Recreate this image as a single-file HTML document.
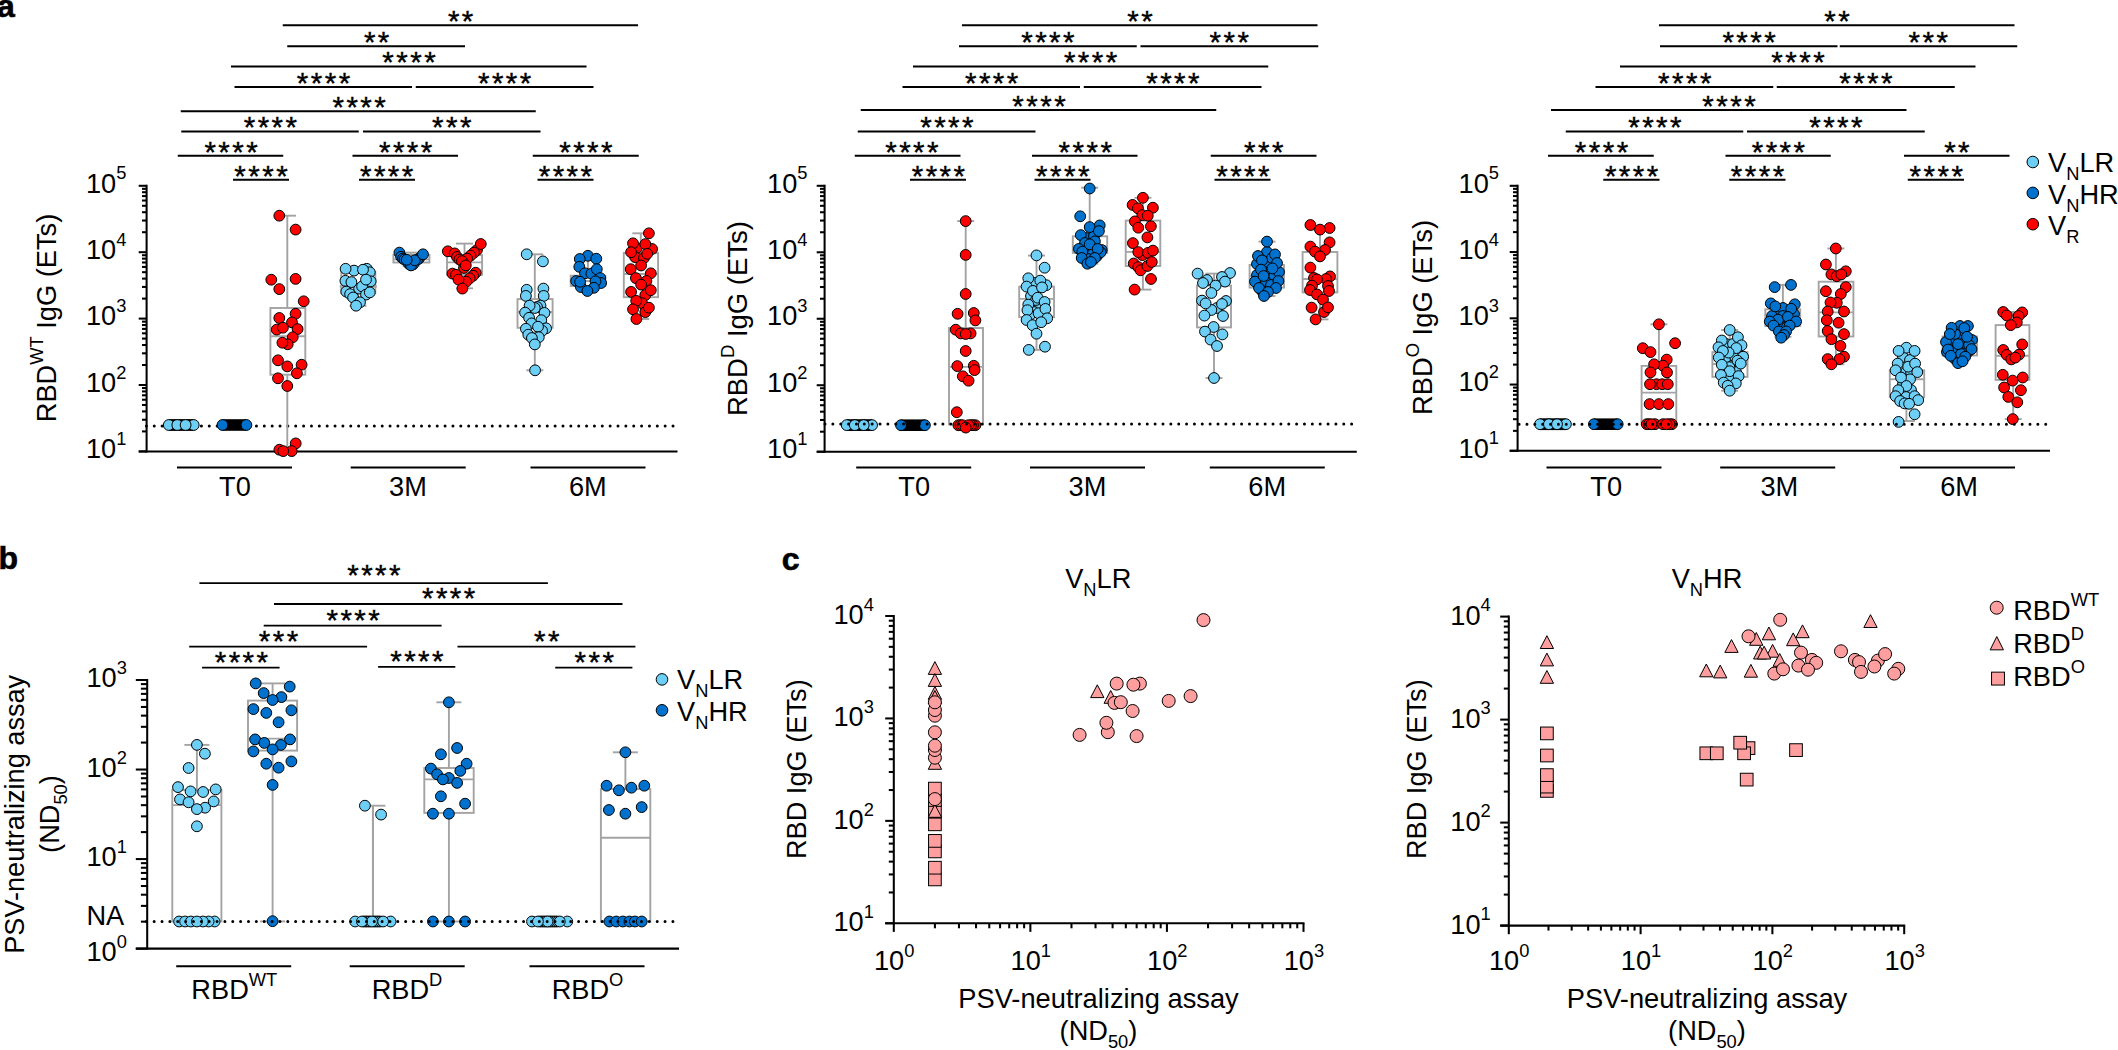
<!DOCTYPE html>
<html><head><meta charset="utf-8"><title>Figure</title>
<style>html,body{margin:0;padding:0;background:#fff}svg{display:block}</style></head>
<body><svg width="2118" height="1050" viewBox="0 0 2118 1050" font-family="'Liberation Sans', Arial, Helvetica, sans-serif" fill="#000">
<rect width="2118" height="1050" fill="#fff"/>
<g stroke="#000" stroke-width="0.6">
<text transform="translate(-2.9 17.1)" font-size="32" text-anchor="start" font-weight="bold"><tspan>a</tspan></text>
<text transform="translate(-1.5 569.4)" font-size="32" text-anchor="start" font-weight="bold"><tspan>b</tspan></text>
<text transform="translate(781.8 569.5)" font-size="32" text-anchor="start" font-weight="bold"><tspan>c</tspan></text>
</g>
<line x1="282.75" y1="25.25" x2="638" y2="25.25" stroke="#000" stroke-width="1.85"/>
<text x="461.83" y="31.05" font-size="29.5" letter-spacing="2.45" text-anchor="middle" stroke="#000" stroke-width="0.4">**</text>
<line x1="287.25" y1="46.25" x2="465" y2="46.25" stroke="#000" stroke-width="1.85"/>
<text x="377.83" y="52.05" font-size="29.5" letter-spacing="2.45" text-anchor="middle" stroke="#000" stroke-width="0.4">**</text>
<line x1="231" y1="66.5" x2="586.5" y2="66.5" stroke="#000" stroke-width="1.85"/>
<text x="410.23" y="72.3" font-size="29.5" letter-spacing="2.45" text-anchor="middle" stroke="#000" stroke-width="0.4">****</text>
<line x1="234.5" y1="87" x2="412" y2="87" stroke="#000" stroke-width="1.85"/>
<text x="324.73" y="92.8" font-size="29.5" letter-spacing="2.45" text-anchor="middle" stroke="#000" stroke-width="0.4">****</text>
<line x1="415.75" y1="87" x2="593.5" y2="87" stroke="#000" stroke-width="1.85"/>
<text x="505.83" y="92.8" font-size="29.5" letter-spacing="2.45" text-anchor="middle" stroke="#000" stroke-width="0.4">****</text>
<line x1="180.75" y1="111.25" x2="535.75" y2="111.25" stroke="#000" stroke-width="1.85"/>
<text x="360.33" y="117.05" font-size="29.5" letter-spacing="2.45" text-anchor="middle" stroke="#000" stroke-width="0.4">****</text>
<line x1="181.25" y1="131.5" x2="358.75" y2="131.5" stroke="#000" stroke-width="1.85"/>
<text x="271.62" y="137.3" font-size="29.5" letter-spacing="2.45" text-anchor="middle" stroke="#000" stroke-width="0.4">****</text>
<line x1="363" y1="131.5" x2="540.5" y2="131.5" stroke="#000" stroke-width="1.85"/>
<text x="452.98" y="137.3" font-size="29.5" letter-spacing="2.45" text-anchor="middle" stroke="#000" stroke-width="0.4">***</text>
<line x1="177.75" y1="155.75" x2="283.25" y2="155.75" stroke="#000" stroke-width="1.85"/>
<text x="232.32" y="161.55" font-size="29.5" letter-spacing="2.45" text-anchor="middle" stroke="#000" stroke-width="0.4">****</text>
<line x1="352.5" y1="155.75" x2="458" y2="155.75" stroke="#000" stroke-width="1.85"/>
<text x="406.83" y="161.55" font-size="29.5" letter-spacing="2.45" text-anchor="middle" stroke="#000" stroke-width="0.4">****</text>
<line x1="532.75" y1="155.75" x2="638.75" y2="155.75" stroke="#000" stroke-width="1.85"/>
<text x="587.12" y="161.55" font-size="29.5" letter-spacing="2.45" text-anchor="middle" stroke="#000" stroke-width="0.4">****</text>
<line x1="233" y1="179.75" x2="289" y2="179.75" stroke="#000" stroke-width="1.85"/>
<text x="262.23" y="185.55" font-size="29.5" letter-spacing="2.45" text-anchor="middle" stroke="#000" stroke-width="0.4">****</text>
<line x1="359" y1="179.75" x2="415" y2="179.75" stroke="#000" stroke-width="1.85"/>
<text x="387.83" y="185.55" font-size="29.5" letter-spacing="2.45" text-anchor="middle" stroke="#000" stroke-width="0.4">****</text>
<line x1="537.5" y1="179.75" x2="593.5" y2="179.75" stroke="#000" stroke-width="1.85"/>
<text x="566.62" y="185.55" font-size="29.5" letter-spacing="2.45" text-anchor="middle" stroke="#000" stroke-width="0.4">****</text>
<line x1="962" y1="25.25" x2="1317.5" y2="25.25" stroke="#000" stroke-width="1.85"/>
<text x="1141.22" y="31.05" font-size="29.5" letter-spacing="2.45" text-anchor="middle" stroke="#000" stroke-width="0.4">**</text>
<line x1="959" y1="46.25" x2="1136.75" y2="46.25" stroke="#000" stroke-width="1.85"/>
<text x="1049.12" y="52.05" font-size="29.5" letter-spacing="2.45" text-anchor="middle" stroke="#000" stroke-width="0.4">****</text>
<line x1="1140.5" y1="46.25" x2="1318.25" y2="46.25" stroke="#000" stroke-width="1.85"/>
<text x="1230.47" y="52.05" font-size="29.5" letter-spacing="2.45" text-anchor="middle" stroke="#000" stroke-width="0.4">***</text>
<line x1="913" y1="66.5" x2="1268.25" y2="66.5" stroke="#000" stroke-width="1.85"/>
<text x="1091.82" y="72.3" font-size="29.5" letter-spacing="2.45" text-anchor="middle" stroke="#000" stroke-width="0.4">****</text>
<line x1="902.5" y1="87" x2="1080" y2="87" stroke="#000" stroke-width="1.85"/>
<text x="992.83" y="92.8" font-size="29.5" letter-spacing="2.45" text-anchor="middle" stroke="#000" stroke-width="0.4">****</text>
<line x1="1083.75" y1="87" x2="1261.5" y2="87" stroke="#000" stroke-width="1.85"/>
<text x="1174.12" y="92.8" font-size="29.5" letter-spacing="2.45" text-anchor="middle" stroke="#000" stroke-width="0.4">****</text>
<line x1="860.75" y1="110" x2="1216.25" y2="110" stroke="#000" stroke-width="1.85"/>
<text x="1040.22" y="115.8" font-size="29.5" letter-spacing="2.45" text-anchor="middle" stroke="#000" stroke-width="0.4">****</text>
<line x1="857.75" y1="131.5" x2="1035.5" y2="131.5" stroke="#000" stroke-width="1.85"/>
<text x="948.12" y="137.3" font-size="29.5" letter-spacing="2.45" text-anchor="middle" stroke="#000" stroke-width="0.4">****</text>
<line x1="854.75" y1="155.75" x2="960.5" y2="155.75" stroke="#000" stroke-width="1.85"/>
<text x="913.12" y="161.55" font-size="29.5" letter-spacing="2.45" text-anchor="middle" stroke="#000" stroke-width="0.4">****</text>
<line x1="1032" y1="155.75" x2="1137.5" y2="155.75" stroke="#000" stroke-width="1.85"/>
<text x="1086.47" y="161.55" font-size="29.5" letter-spacing="2.45" text-anchor="middle" stroke="#000" stroke-width="0.4">****</text>
<line x1="1210.75" y1="155.75" x2="1316.5" y2="155.75" stroke="#000" stroke-width="1.85"/>
<text x="1264.97" y="161.55" font-size="29.5" letter-spacing="2.45" text-anchor="middle" stroke="#000" stroke-width="0.4">***</text>
<line x1="910" y1="179.75" x2="966" y2="179.75" stroke="#000" stroke-width="1.85"/>
<text x="939.62" y="185.55" font-size="29.5" letter-spacing="2.45" text-anchor="middle" stroke="#000" stroke-width="0.4">****</text>
<line x1="1034.5" y1="179.75" x2="1090.5" y2="179.75" stroke="#000" stroke-width="1.85"/>
<text x="1063.97" y="185.55" font-size="29.5" letter-spacing="2.45" text-anchor="middle" stroke="#000" stroke-width="0.4">****</text>
<line x1="1214.5" y1="179.75" x2="1270.5" y2="179.75" stroke="#000" stroke-width="1.85"/>
<text x="1244.12" y="185.55" font-size="29.5" letter-spacing="2.45" text-anchor="middle" stroke="#000" stroke-width="0.4">****</text>
<line x1="1659" y1="25.25" x2="2014.5" y2="25.25" stroke="#000" stroke-width="1.85"/>
<text x="1838.22" y="31.05" font-size="29.5" letter-spacing="2.45" text-anchor="middle" stroke="#000" stroke-width="0.4">**</text>
<line x1="1660" y1="46.25" x2="1837.5" y2="46.25" stroke="#000" stroke-width="1.85"/>
<text x="1750.32" y="52.05" font-size="29.5" letter-spacing="2.45" text-anchor="middle" stroke="#000" stroke-width="0.4">****</text>
<line x1="1839.75" y1="46.25" x2="2017.25" y2="46.25" stroke="#000" stroke-width="1.85"/>
<text x="1929.47" y="52.05" font-size="29.5" letter-spacing="2.45" text-anchor="middle" stroke="#000" stroke-width="0.4">***</text>
<line x1="1620" y1="66.5" x2="1975.5" y2="66.5" stroke="#000" stroke-width="1.85"/>
<text x="1799.22" y="72.3" font-size="29.5" letter-spacing="2.45" text-anchor="middle" stroke="#000" stroke-width="0.4">****</text>
<line x1="1595.5" y1="87" x2="1773.25" y2="87" stroke="#000" stroke-width="1.85"/>
<text x="1685.97" y="92.8" font-size="29.5" letter-spacing="2.45" text-anchor="middle" stroke="#000" stroke-width="0.4">****</text>
<line x1="1776.75" y1="87" x2="1954.75" y2="87" stroke="#000" stroke-width="1.85"/>
<text x="1867.12" y="92.8" font-size="29.5" letter-spacing="2.45" text-anchor="middle" stroke="#000" stroke-width="0.4">****</text>
<line x1="1551" y1="110" x2="1906.5" y2="110" stroke="#000" stroke-width="1.85"/>
<text x="1730.22" y="115.8" font-size="29.5" letter-spacing="2.45" text-anchor="middle" stroke="#000" stroke-width="0.4">****</text>
<line x1="1565.75" y1="131.5" x2="1743.25" y2="131.5" stroke="#000" stroke-width="1.85"/>
<text x="1656.12" y="137.3" font-size="29.5" letter-spacing="2.45" text-anchor="middle" stroke="#000" stroke-width="0.4">****</text>
<line x1="1747" y1="131.5" x2="1924.75" y2="131.5" stroke="#000" stroke-width="1.85"/>
<text x="1837.12" y="137.3" font-size="29.5" letter-spacing="2.45" text-anchor="middle" stroke="#000" stroke-width="0.4">****</text>
<line x1="1548" y1="155.75" x2="1653.75" y2="155.75" stroke="#000" stroke-width="1.85"/>
<text x="1602.72" y="161.55" font-size="29.5" letter-spacing="2.45" text-anchor="middle" stroke="#000" stroke-width="0.4">****</text>
<line x1="1725.5" y1="155.75" x2="1830.75" y2="155.75" stroke="#000" stroke-width="1.85"/>
<text x="1779.62" y="161.55" font-size="29.5" letter-spacing="2.45" text-anchor="middle" stroke="#000" stroke-width="0.4">****</text>
<line x1="1904" y1="155.75" x2="2009.5" y2="155.75" stroke="#000" stroke-width="1.85"/>
<text x="1958.12" y="161.55" font-size="29.5" letter-spacing="2.45" text-anchor="middle" stroke="#000" stroke-width="0.4">**</text>
<line x1="1603.25" y1="179.75" x2="1659.5" y2="179.75" stroke="#000" stroke-width="1.85"/>
<text x="1632.82" y="185.55" font-size="29.5" letter-spacing="2.45" text-anchor="middle" stroke="#000" stroke-width="0.4">****</text>
<line x1="1729.25" y1="179.75" x2="1785.5" y2="179.75" stroke="#000" stroke-width="1.85"/>
<text x="1758.72" y="185.55" font-size="29.5" letter-spacing="2.45" text-anchor="middle" stroke="#000" stroke-width="0.4">****</text>
<line x1="1907.75" y1="179.75" x2="1964" y2="179.75" stroke="#000" stroke-width="1.85"/>
<text x="1937.47" y="185.55" font-size="29.5" letter-spacing="2.45" text-anchor="middle" stroke="#000" stroke-width="0.4">****</text>
<line x1="199.4" y1="583.1" x2="547.9" y2="583.1" stroke="#000" stroke-width="1.85"/>
<text x="375.12" y="584.9" font-size="29.5" letter-spacing="2.45" text-anchor="middle" stroke="#000" stroke-width="0.4">****</text>
<line x1="274" y1="604" x2="622.5" y2="604" stroke="#000" stroke-width="1.85"/>
<text x="449.83" y="607.9" font-size="29.5" letter-spacing="2.45" text-anchor="middle" stroke="#000" stroke-width="0.4">****</text>
<line x1="263.7" y1="625.6" x2="441.6" y2="625.6" stroke="#000" stroke-width="1.85"/>
<text x="354.33" y="629.5" font-size="29.5" letter-spacing="2.45" text-anchor="middle" stroke="#000" stroke-width="0.4">****</text>
<line x1="189.2" y1="646.6" x2="367.1" y2="646.6" stroke="#000" stroke-width="1.85"/>
<text x="279.73" y="650.5" font-size="29.5" letter-spacing="2.45" text-anchor="middle" stroke="#000" stroke-width="0.4">***</text>
<line x1="457.5" y1="646.6" x2="635.4" y2="646.6" stroke="#000" stroke-width="1.85"/>
<text x="548.02" y="650.5" font-size="29.5" letter-spacing="2.45" text-anchor="middle" stroke="#000" stroke-width="0.4">**</text>
<line x1="202.1" y1="667.6" x2="279.6" y2="667.6" stroke="#000" stroke-width="1.85"/>
<text x="242.62" y="671.5" font-size="29.5" letter-spacing="2.45" text-anchor="middle" stroke="#000" stroke-width="0.4">****</text>
<line x1="378.1" y1="666.8" x2="455.3" y2="666.8" stroke="#000" stroke-width="1.85"/>
<text x="418.12" y="670.7" font-size="29.5" letter-spacing="2.45" text-anchor="middle" stroke="#000" stroke-width="0.4">****</text>
<line x1="555.2" y1="667.6" x2="632.4" y2="667.6" stroke="#000" stroke-width="1.85"/>
<text x="595.43" y="671.5" font-size="29.5" letter-spacing="2.45" text-anchor="middle" stroke="#000" stroke-width="0.4">***</text>
<line x1="146.6" y1="184.78" x2="146.6" y2="452.42" stroke="#000" stroke-width="2.05"/>
<line x1="138.7" y1="451.4" x2="146.6" y2="451.4" stroke="#000" stroke-width="2.05"/>
<line x1="142" y1="431.41" x2="146.6" y2="431.41" stroke="#000" stroke-width="2.05"/>
<line x1="142" y1="419.72" x2="146.6" y2="419.72" stroke="#000" stroke-width="2.05"/>
<line x1="142" y1="411.42" x2="146.6" y2="411.42" stroke="#000" stroke-width="2.05"/>
<line x1="142" y1="404.99" x2="146.6" y2="404.99" stroke="#000" stroke-width="2.05"/>
<line x1="142" y1="399.73" x2="146.6" y2="399.73" stroke="#000" stroke-width="2.05"/>
<line x1="142" y1="395.29" x2="146.6" y2="395.29" stroke="#000" stroke-width="2.05"/>
<line x1="142" y1="391.43" x2="146.6" y2="391.43" stroke="#000" stroke-width="2.05"/>
<line x1="142" y1="388.04" x2="146.6" y2="388.04" stroke="#000" stroke-width="2.05"/>
<line x1="138.7" y1="385" x2="146.6" y2="385" stroke="#000" stroke-width="2.05"/>
<line x1="142" y1="365.01" x2="146.6" y2="365.01" stroke="#000" stroke-width="2.05"/>
<line x1="142" y1="353.32" x2="146.6" y2="353.32" stroke="#000" stroke-width="2.05"/>
<line x1="142" y1="345.02" x2="146.6" y2="345.02" stroke="#000" stroke-width="2.05"/>
<line x1="142" y1="338.59" x2="146.6" y2="338.59" stroke="#000" stroke-width="2.05"/>
<line x1="142" y1="333.33" x2="146.6" y2="333.33" stroke="#000" stroke-width="2.05"/>
<line x1="142" y1="328.89" x2="146.6" y2="328.89" stroke="#000" stroke-width="2.05"/>
<line x1="142" y1="325.03" x2="146.6" y2="325.03" stroke="#000" stroke-width="2.05"/>
<line x1="142" y1="321.64" x2="146.6" y2="321.64" stroke="#000" stroke-width="2.05"/>
<line x1="138.7" y1="318.6" x2="146.6" y2="318.6" stroke="#000" stroke-width="2.05"/>
<line x1="142" y1="298.61" x2="146.6" y2="298.61" stroke="#000" stroke-width="2.05"/>
<line x1="142" y1="286.92" x2="146.6" y2="286.92" stroke="#000" stroke-width="2.05"/>
<line x1="142" y1="278.62" x2="146.6" y2="278.62" stroke="#000" stroke-width="2.05"/>
<line x1="142" y1="272.19" x2="146.6" y2="272.19" stroke="#000" stroke-width="2.05"/>
<line x1="142" y1="266.93" x2="146.6" y2="266.93" stroke="#000" stroke-width="2.05"/>
<line x1="142" y1="262.49" x2="146.6" y2="262.49" stroke="#000" stroke-width="2.05"/>
<line x1="142" y1="258.63" x2="146.6" y2="258.63" stroke="#000" stroke-width="2.05"/>
<line x1="142" y1="255.24" x2="146.6" y2="255.24" stroke="#000" stroke-width="2.05"/>
<line x1="138.7" y1="252.2" x2="146.6" y2="252.2" stroke="#000" stroke-width="2.05"/>
<line x1="142" y1="232.21" x2="146.6" y2="232.21" stroke="#000" stroke-width="2.05"/>
<line x1="142" y1="220.52" x2="146.6" y2="220.52" stroke="#000" stroke-width="2.05"/>
<line x1="142" y1="212.22" x2="146.6" y2="212.22" stroke="#000" stroke-width="2.05"/>
<line x1="142" y1="205.79" x2="146.6" y2="205.79" stroke="#000" stroke-width="2.05"/>
<line x1="142" y1="200.53" x2="146.6" y2="200.53" stroke="#000" stroke-width="2.05"/>
<line x1="142" y1="196.09" x2="146.6" y2="196.09" stroke="#000" stroke-width="2.05"/>
<line x1="142" y1="192.23" x2="146.6" y2="192.23" stroke="#000" stroke-width="2.05"/>
<line x1="142" y1="188.84" x2="146.6" y2="188.84" stroke="#000" stroke-width="2.05"/>
<line x1="138.7" y1="185.8" x2="146.6" y2="185.8" stroke="#000" stroke-width="2.05"/>
<line x1="138.7" y1="451.4" x2="677.5" y2="451.4" stroke="#000" stroke-width="2.05"/>
<text transform="translate(85.9 458.1) scale(0.975 1)" font-size="27.9" text-anchor="start"><tspan>10</tspan><tspan dy="-13.2" font-size="18.8">1</tspan></text>
<text transform="translate(85.9 391.7) scale(0.975 1)" font-size="27.9" text-anchor="start"><tspan>10</tspan><tspan dy="-13.2" font-size="18.8">2</tspan></text>
<text transform="translate(85.9 325.3) scale(0.975 1)" font-size="27.9" text-anchor="start"><tspan>10</tspan><tspan dy="-13.2" font-size="18.8">3</tspan></text>
<text transform="translate(85.9 258.9) scale(0.975 1)" font-size="27.9" text-anchor="start"><tspan>10</tspan><tspan dy="-13.2" font-size="18.8">4</tspan></text>
<text transform="translate(85.9 192.5) scale(0.975 1)" font-size="27.9" text-anchor="start"><tspan>10</tspan><tspan dy="-13.2" font-size="18.8">5</tspan></text>
<text transform="translate(55.7 318) rotate(-90) scale(0.975 1)" font-size="27.9" text-anchor="middle" textLength="213.85" lengthAdjust="spacingAndGlyphs"><tspan>RBD</tspan><tspan dy="-13.2" font-size="18.8">WT</tspan><tspan dy="13.2" font-size="27.9"> IgG (ETs)</tspan></text>
<line x1="177" y1="467.6" x2="292" y2="467.6" stroke="#000" stroke-width="2.0"/>
<text transform="translate(234.9 495.9) scale(0.975 1)" font-size="27.9" text-anchor="middle"><tspan>T0</tspan></text>
<line x1="350.7" y1="467.6" x2="465.7" y2="467.6" stroke="#000" stroke-width="2.0"/>
<text transform="translate(408 495.9) scale(0.975 1)" font-size="27.9" text-anchor="middle"><tspan>3M</tspan></text>
<line x1="530.5" y1="467.6" x2="645.5" y2="467.6" stroke="#000" stroke-width="2.0"/>
<text transform="translate(587.8 495.9) scale(0.975 1)" font-size="27.9" text-anchor="middle"><tspan>6M</tspan></text>
<line x1="824.6" y1="184.78" x2="824.6" y2="452.72" stroke="#000" stroke-width="2.05"/>
<line x1="816.7" y1="451.7" x2="824.6" y2="451.7" stroke="#000" stroke-width="2.05"/>
<line x1="820" y1="431.69" x2="824.6" y2="431.69" stroke="#000" stroke-width="2.05"/>
<line x1="820" y1="419.98" x2="824.6" y2="419.98" stroke="#000" stroke-width="2.05"/>
<line x1="820" y1="411.68" x2="824.6" y2="411.68" stroke="#000" stroke-width="2.05"/>
<line x1="820" y1="405.24" x2="824.6" y2="405.24" stroke="#000" stroke-width="2.05"/>
<line x1="820" y1="399.97" x2="824.6" y2="399.97" stroke="#000" stroke-width="2.05"/>
<line x1="820" y1="395.52" x2="824.6" y2="395.52" stroke="#000" stroke-width="2.05"/>
<line x1="820" y1="391.67" x2="824.6" y2="391.67" stroke="#000" stroke-width="2.05"/>
<line x1="820" y1="388.27" x2="824.6" y2="388.27" stroke="#000" stroke-width="2.05"/>
<line x1="816.7" y1="385.23" x2="824.6" y2="385.23" stroke="#000" stroke-width="2.05"/>
<line x1="820" y1="365.21" x2="824.6" y2="365.21" stroke="#000" stroke-width="2.05"/>
<line x1="820" y1="353.51" x2="824.6" y2="353.51" stroke="#000" stroke-width="2.05"/>
<line x1="820" y1="345.2" x2="824.6" y2="345.2" stroke="#000" stroke-width="2.05"/>
<line x1="820" y1="338.76" x2="824.6" y2="338.76" stroke="#000" stroke-width="2.05"/>
<line x1="820" y1="333.5" x2="824.6" y2="333.5" stroke="#000" stroke-width="2.05"/>
<line x1="820" y1="329.05" x2="824.6" y2="329.05" stroke="#000" stroke-width="2.05"/>
<line x1="820" y1="325.19" x2="824.6" y2="325.19" stroke="#000" stroke-width="2.05"/>
<line x1="820" y1="321.79" x2="824.6" y2="321.79" stroke="#000" stroke-width="2.05"/>
<line x1="816.7" y1="318.75" x2="824.6" y2="318.75" stroke="#000" stroke-width="2.05"/>
<line x1="820" y1="298.74" x2="824.6" y2="298.74" stroke="#000" stroke-width="2.05"/>
<line x1="820" y1="287.03" x2="824.6" y2="287.03" stroke="#000" stroke-width="2.05"/>
<line x1="820" y1="278.73" x2="824.6" y2="278.73" stroke="#000" stroke-width="2.05"/>
<line x1="820" y1="272.29" x2="824.6" y2="272.29" stroke="#000" stroke-width="2.05"/>
<line x1="820" y1="267.02" x2="824.6" y2="267.02" stroke="#000" stroke-width="2.05"/>
<line x1="820" y1="262.57" x2="824.6" y2="262.57" stroke="#000" stroke-width="2.05"/>
<line x1="820" y1="258.72" x2="824.6" y2="258.72" stroke="#000" stroke-width="2.05"/>
<line x1="820" y1="255.32" x2="824.6" y2="255.32" stroke="#000" stroke-width="2.05"/>
<line x1="816.7" y1="252.28" x2="824.6" y2="252.28" stroke="#000" stroke-width="2.05"/>
<line x1="820" y1="232.26" x2="824.6" y2="232.26" stroke="#000" stroke-width="2.05"/>
<line x1="820" y1="220.56" x2="824.6" y2="220.56" stroke="#000" stroke-width="2.05"/>
<line x1="820" y1="212.25" x2="824.6" y2="212.25" stroke="#000" stroke-width="2.05"/>
<line x1="820" y1="205.81" x2="824.6" y2="205.81" stroke="#000" stroke-width="2.05"/>
<line x1="820" y1="200.55" x2="824.6" y2="200.55" stroke="#000" stroke-width="2.05"/>
<line x1="820" y1="196.1" x2="824.6" y2="196.1" stroke="#000" stroke-width="2.05"/>
<line x1="820" y1="192.24" x2="824.6" y2="192.24" stroke="#000" stroke-width="2.05"/>
<line x1="820" y1="188.84" x2="824.6" y2="188.84" stroke="#000" stroke-width="2.05"/>
<line x1="816.7" y1="185.8" x2="824.6" y2="185.8" stroke="#000" stroke-width="2.05"/>
<line x1="816.7" y1="451.7" x2="1356.8" y2="451.7" stroke="#000" stroke-width="2.05"/>
<text transform="translate(767 458.4) scale(0.975 1)" font-size="27.9" text-anchor="start"><tspan>10</tspan><tspan dy="-13.2" font-size="18.8">1</tspan></text>
<text transform="translate(767 391.93) scale(0.975 1)" font-size="27.9" text-anchor="start"><tspan>10</tspan><tspan dy="-13.2" font-size="18.8">2</tspan></text>
<text transform="translate(767 325.45) scale(0.975 1)" font-size="27.9" text-anchor="start"><tspan>10</tspan><tspan dy="-13.2" font-size="18.8">3</tspan></text>
<text transform="translate(767 258.98) scale(0.975 1)" font-size="27.9" text-anchor="start"><tspan>10</tspan><tspan dy="-13.2" font-size="18.8">4</tspan></text>
<text transform="translate(767 192.5) scale(0.975 1)" font-size="27.9" text-anchor="start"><tspan>10</tspan><tspan dy="-13.2" font-size="18.8">5</tspan></text>
<text transform="translate(747.2 318.6) rotate(-90) scale(0.975 1)" font-size="27.9" text-anchor="middle" textLength="200" lengthAdjust="spacingAndGlyphs"><tspan>RBD</tspan><tspan dy="-13.2" font-size="18.8">D</tspan><tspan dy="13.2" font-size="27.9"> IgG (ETs)</tspan></text>
<line x1="856.2" y1="467.6" x2="971.2" y2="467.6" stroke="#000" stroke-width="2.0"/>
<text transform="translate(914.2 495.9) scale(0.975 1)" font-size="27.9" text-anchor="middle"><tspan>T0</tspan></text>
<line x1="1030" y1="467.6" x2="1145" y2="467.6" stroke="#000" stroke-width="2.0"/>
<text transform="translate(1087.5 495.9) scale(0.975 1)" font-size="27.9" text-anchor="middle"><tspan>3M</tspan></text>
<line x1="1209.8" y1="467.6" x2="1324.8" y2="467.6" stroke="#000" stroke-width="2.0"/>
<text transform="translate(1267.2 495.9) scale(0.975 1)" font-size="27.9" text-anchor="middle"><tspan>6M</tspan></text>
<line x1="1517.6" y1="184.78" x2="1517.6" y2="451.82" stroke="#000" stroke-width="2.05"/>
<line x1="1509.7" y1="450.8" x2="1517.6" y2="450.8" stroke="#000" stroke-width="2.05"/>
<line x1="1513" y1="430.86" x2="1517.6" y2="430.86" stroke="#000" stroke-width="2.05"/>
<line x1="1513" y1="419.19" x2="1517.6" y2="419.19" stroke="#000" stroke-width="2.05"/>
<line x1="1513" y1="410.91" x2="1517.6" y2="410.91" stroke="#000" stroke-width="2.05"/>
<line x1="1513" y1="404.49" x2="1517.6" y2="404.49" stroke="#000" stroke-width="2.05"/>
<line x1="1513" y1="399.25" x2="1517.6" y2="399.25" stroke="#000" stroke-width="2.05"/>
<line x1="1513" y1="394.81" x2="1517.6" y2="394.81" stroke="#000" stroke-width="2.05"/>
<line x1="1513" y1="390.97" x2="1517.6" y2="390.97" stroke="#000" stroke-width="2.05"/>
<line x1="1513" y1="387.58" x2="1517.6" y2="387.58" stroke="#000" stroke-width="2.05"/>
<line x1="1509.7" y1="384.55" x2="1517.6" y2="384.55" stroke="#000" stroke-width="2.05"/>
<line x1="1513" y1="364.61" x2="1517.6" y2="364.61" stroke="#000" stroke-width="2.05"/>
<line x1="1513" y1="352.94" x2="1517.6" y2="352.94" stroke="#000" stroke-width="2.05"/>
<line x1="1513" y1="344.66" x2="1517.6" y2="344.66" stroke="#000" stroke-width="2.05"/>
<line x1="1513" y1="338.24" x2="1517.6" y2="338.24" stroke="#000" stroke-width="2.05"/>
<line x1="1513" y1="333" x2="1517.6" y2="333" stroke="#000" stroke-width="2.05"/>
<line x1="1513" y1="328.56" x2="1517.6" y2="328.56" stroke="#000" stroke-width="2.05"/>
<line x1="1513" y1="324.72" x2="1517.6" y2="324.72" stroke="#000" stroke-width="2.05"/>
<line x1="1513" y1="321.33" x2="1517.6" y2="321.33" stroke="#000" stroke-width="2.05"/>
<line x1="1509.7" y1="318.3" x2="1517.6" y2="318.3" stroke="#000" stroke-width="2.05"/>
<line x1="1513" y1="298.36" x2="1517.6" y2="298.36" stroke="#000" stroke-width="2.05"/>
<line x1="1513" y1="286.69" x2="1517.6" y2="286.69" stroke="#000" stroke-width="2.05"/>
<line x1="1513" y1="278.41" x2="1517.6" y2="278.41" stroke="#000" stroke-width="2.05"/>
<line x1="1513" y1="271.99" x2="1517.6" y2="271.99" stroke="#000" stroke-width="2.05"/>
<line x1="1513" y1="266.75" x2="1517.6" y2="266.75" stroke="#000" stroke-width="2.05"/>
<line x1="1513" y1="262.31" x2="1517.6" y2="262.31" stroke="#000" stroke-width="2.05"/>
<line x1="1513" y1="258.47" x2="1517.6" y2="258.47" stroke="#000" stroke-width="2.05"/>
<line x1="1513" y1="255.08" x2="1517.6" y2="255.08" stroke="#000" stroke-width="2.05"/>
<line x1="1509.7" y1="252.05" x2="1517.6" y2="252.05" stroke="#000" stroke-width="2.05"/>
<line x1="1513" y1="232.11" x2="1517.6" y2="232.11" stroke="#000" stroke-width="2.05"/>
<line x1="1513" y1="220.44" x2="1517.6" y2="220.44" stroke="#000" stroke-width="2.05"/>
<line x1="1513" y1="212.16" x2="1517.6" y2="212.16" stroke="#000" stroke-width="2.05"/>
<line x1="1513" y1="205.74" x2="1517.6" y2="205.74" stroke="#000" stroke-width="2.05"/>
<line x1="1513" y1="200.5" x2="1517.6" y2="200.5" stroke="#000" stroke-width="2.05"/>
<line x1="1513" y1="196.06" x2="1517.6" y2="196.06" stroke="#000" stroke-width="2.05"/>
<line x1="1513" y1="192.22" x2="1517.6" y2="192.22" stroke="#000" stroke-width="2.05"/>
<line x1="1513" y1="188.83" x2="1517.6" y2="188.83" stroke="#000" stroke-width="2.05"/>
<line x1="1509.7" y1="185.8" x2="1517.6" y2="185.8" stroke="#000" stroke-width="2.05"/>
<line x1="1509.7" y1="450.8" x2="2050" y2="450.8" stroke="#000" stroke-width="2.05"/>
<text transform="translate(1458.5 457.5) scale(0.975 1)" font-size="27.9" text-anchor="start"><tspan>10</tspan><tspan dy="-13.2" font-size="18.8">1</tspan></text>
<text transform="translate(1458.5 391.25) scale(0.975 1)" font-size="27.9" text-anchor="start"><tspan>10</tspan><tspan dy="-13.2" font-size="18.8">2</tspan></text>
<text transform="translate(1458.5 325) scale(0.975 1)" font-size="27.9" text-anchor="start"><tspan>10</tspan><tspan dy="-13.2" font-size="18.8">3</tspan></text>
<text transform="translate(1458.5 258.75) scale(0.975 1)" font-size="27.9" text-anchor="start"><tspan>10</tspan><tspan dy="-13.2" font-size="18.8">4</tspan></text>
<text transform="translate(1458.5 192.5) scale(0.975 1)" font-size="27.9" text-anchor="start"><tspan>10</tspan><tspan dy="-13.2" font-size="18.8">5</tspan></text>
<text transform="translate(1432.4 317.5) rotate(-90) scale(0.975 1)" font-size="27.9" text-anchor="middle" textLength="200" lengthAdjust="spacingAndGlyphs"><tspan>RBD</tspan><tspan dy="-13.2" font-size="18.8">O</tspan><tspan dy="13.2" font-size="27.9"> IgG (ETs)</tspan></text>
<line x1="1546.5" y1="467.6" x2="1661.5" y2="467.6" stroke="#000" stroke-width="2.0"/>
<text transform="translate(1606.2 495.9) scale(0.975 1)" font-size="27.9" text-anchor="middle"><tspan>T0</tspan></text>
<line x1="1720.2" y1="467.6" x2="1835.2" y2="467.6" stroke="#000" stroke-width="2.0"/>
<text transform="translate(1779.3 495.9) scale(0.975 1)" font-size="27.9" text-anchor="middle"><tspan>3M</tspan></text>
<line x1="1900" y1="467.6" x2="2015" y2="467.6" stroke="#000" stroke-width="2.0"/>
<text transform="translate(1959.1 495.9) scale(0.975 1)" font-size="27.9" text-anchor="middle"><tspan>6M</tspan></text>
<line x1="146.4" y1="425.9" x2="677" y2="425.9" stroke="#000" stroke-width="3.0" stroke-linecap="round" stroke-dasharray="0 7.86"/>
<line x1="287.3" y1="215.7" x2="287.3" y2="308" stroke="#a3a3a3" stroke-width="1.9"/>
<line x1="278.6" y1="215.7" x2="296" y2="215.7" stroke="#a3a3a3" stroke-width="1.9"/>
<line x1="287.3" y1="374.7" x2="287.3" y2="451" stroke="#a3a3a3" stroke-width="1.9"/>
<line x1="278.6" y1="451" x2="296" y2="451" stroke="#a3a3a3" stroke-width="1.9"/>
<rect x="270.4" y="308" width="34.9" height="66.7" fill="none" stroke="#a3a3a3" stroke-width="1.9"/>
<line x1="270.4" y1="336.3" x2="305.3" y2="336.3" stroke="#a3a3a3" stroke-width="1.9"/>
<line x1="358" y1="268.5" x2="358" y2="272" stroke="#a3a3a3" stroke-width="1.9"/>
<line x1="349.5" y1="268.5" x2="366.5" y2="268.5" stroke="#a3a3a3" stroke-width="1.9"/>
<line x1="358" y1="293" x2="358" y2="305.7" stroke="#a3a3a3" stroke-width="1.9"/>
<line x1="349.5" y1="305.7" x2="366.5" y2="305.7" stroke="#a3a3a3" stroke-width="1.9"/>
<rect x="341.3" y="272" width="34" height="21" fill="none" stroke="#a3a3a3" stroke-width="1.9"/>
<line x1="341.3" y1="286.5" x2="375.3" y2="286.5" stroke="#a3a3a3" stroke-width="1.9"/>
<line x1="339.6" y1="286.5" x2="377" y2="286.5" stroke="#a3a3a3" stroke-width="1.9"/>
<line x1="411" y1="252.6" x2="411" y2="255" stroke="#a3a3a3" stroke-width="1.9"/>
<line x1="402.5" y1="252.6" x2="419.5" y2="252.6" stroke="#a3a3a3" stroke-width="1.9"/>
<line x1="411" y1="262.5" x2="411" y2="265.8" stroke="#a3a3a3" stroke-width="1.9"/>
<line x1="402.5" y1="265.8" x2="419.5" y2="265.8" stroke="#a3a3a3" stroke-width="1.9"/>
<rect x="393.4" y="255" width="36" height="7.5" fill="none" stroke="#a3a3a3" stroke-width="1.9"/>
<line x1="393.4" y1="259.4" x2="429.4" y2="259.4" stroke="#a3a3a3" stroke-width="1.9"/>
<line x1="464.5" y1="243.6" x2="464.5" y2="255.1" stroke="#a3a3a3" stroke-width="1.9"/>
<line x1="456" y1="243.6" x2="473" y2="243.6" stroke="#a3a3a3" stroke-width="1.9"/>
<line x1="464.5" y1="274.8" x2="464.5" y2="288.3" stroke="#a3a3a3" stroke-width="1.9"/>
<line x1="456" y1="288.3" x2="473" y2="288.3" stroke="#a3a3a3" stroke-width="1.9"/>
<rect x="447" y="255.1" width="35.1" height="19.7" fill="none" stroke="#a3a3a3" stroke-width="1.9"/>
<line x1="447" y1="262.4" x2="482.1" y2="262.4" stroke="#a3a3a3" stroke-width="1.9"/>
<line x1="534.8" y1="254.3" x2="534.8" y2="299.1" stroke="#a3a3a3" stroke-width="1.9"/>
<line x1="526.3" y1="254.3" x2="543.3" y2="254.3" stroke="#a3a3a3" stroke-width="1.9"/>
<line x1="534.8" y1="327.8" x2="534.8" y2="370.3" stroke="#a3a3a3" stroke-width="1.9"/>
<line x1="526.3" y1="370.3" x2="543.3" y2="370.3" stroke="#a3a3a3" stroke-width="1.9"/>
<rect x="517.5" y="299.1" width="35.1" height="28.7" fill="none" stroke="#a3a3a3" stroke-width="1.9"/>
<line x1="517.5" y1="312" x2="552.6" y2="312" stroke="#a3a3a3" stroke-width="1.9"/>
<line x1="587.9" y1="255.8" x2="587.9" y2="275.7" stroke="#a3a3a3" stroke-width="1.9"/>
<line x1="579.4" y1="255.8" x2="596.4" y2="255.8" stroke="#a3a3a3" stroke-width="1.9"/>
<line x1="587.9" y1="286" x2="587.9" y2="291" stroke="#a3a3a3" stroke-width="1.9"/>
<line x1="579.4" y1="291" x2="596.4" y2="291" stroke="#a3a3a3" stroke-width="1.9"/>
<rect x="570.7" y="275.7" width="34.6" height="10.3" fill="none" stroke="#a3a3a3" stroke-width="1.9"/>
<line x1="570.7" y1="281" x2="605.3" y2="281" stroke="#a3a3a3" stroke-width="1.9"/>
<line x1="640.8" y1="233.3" x2="640.8" y2="253" stroke="#a3a3a3" stroke-width="1.9"/>
<line x1="632.3" y1="233.3" x2="649.3" y2="233.3" stroke="#a3a3a3" stroke-width="1.9"/>
<line x1="640.8" y1="297.2" x2="640.8" y2="319" stroke="#a3a3a3" stroke-width="1.9"/>
<line x1="632.3" y1="319" x2="649.3" y2="319" stroke="#a3a3a3" stroke-width="1.9"/>
<rect x="623.8" y="253" width="34.3" height="44.2" fill="none" stroke="#a3a3a3" stroke-width="1.9"/>
<line x1="623.8" y1="274" x2="658.1" y2="274" stroke="#a3a3a3" stroke-width="1.9"/>
<rect x="168.8" y="419.1" width="24.9" height="11.8" fill="#000"/>
<circle cx="168.8" cy="425" r="5.4" fill="#6dcff6" stroke="#000" stroke-width="1.0"/>
<circle cx="193.7" cy="425" r="5.4" fill="#6dcff6" stroke="#000" stroke-width="1.0"/>
<circle cx="177.3" cy="425" r="5.4" fill="#6dcff6" stroke="#000" stroke-width="1.0"/>
<circle cx="185.6" cy="425" r="5.4" fill="#6dcff6" stroke="#000" stroke-width="1.0"/>
<rect x="222.5" y="419.2" width="23.9" height="11.6" fill="#000"/>
<circle cx="222.5" cy="425" r="5.4" fill="#0072ce" stroke="#000" stroke-width="1.0"/>
<circle cx="246.4" cy="425" r="5.4" fill="#0072ce" stroke="#000" stroke-width="1.0"/>
<circle cx="279.3" cy="215.7" r="5.4" fill="#ff0000" stroke="#000" stroke-width="1.0"/>
<circle cx="295.6" cy="229.6" r="5.4" fill="#ff0000" stroke="#000" stroke-width="1.0"/>
<circle cx="271.3" cy="279.7" r="5.4" fill="#ff0000" stroke="#000" stroke-width="1.0"/>
<circle cx="295.6" cy="278.9" r="5.4" fill="#ff0000" stroke="#000" stroke-width="1.0"/>
<circle cx="279.3" cy="289.1" r="5.4" fill="#ff0000" stroke="#000" stroke-width="1.0"/>
<circle cx="303.7" cy="301.3" r="5.4" fill="#ff0000" stroke="#000" stroke-width="1.0"/>
<circle cx="295.6" cy="313.7" r="5.4" fill="#ff0000" stroke="#000" stroke-width="1.0"/>
<circle cx="279.3" cy="318" r="5.4" fill="#ff0000" stroke="#000" stroke-width="1.0"/>
<circle cx="292" cy="322.4" r="5.4" fill="#ff0000" stroke="#000" stroke-width="1.0"/>
<circle cx="276.7" cy="329.6" r="5.4" fill="#ff0000" stroke="#000" stroke-width="1.0"/>
<circle cx="282.9" cy="327.7" r="5.4" fill="#ff0000" stroke="#000" stroke-width="1.0"/>
<circle cx="297.6" cy="329.1" r="5.4" fill="#ff0000" stroke="#000" stroke-width="1.0"/>
<circle cx="292.7" cy="337.3" r="5.4" fill="#ff0000" stroke="#000" stroke-width="1.0"/>
<circle cx="287.7" cy="344.3" r="5.4" fill="#ff0000" stroke="#000" stroke-width="1.0"/>
<circle cx="282.4" cy="342.7" r="5.4" fill="#ff0000" stroke="#000" stroke-width="1.0"/>
<circle cx="278" cy="360.3" r="5.4" fill="#ff0000" stroke="#000" stroke-width="1.0"/>
<circle cx="287.3" cy="366.4" r="5.4" fill="#ff0000" stroke="#000" stroke-width="1.0"/>
<circle cx="301.6" cy="364.7" r="5.4" fill="#ff0000" stroke="#000" stroke-width="1.0"/>
<circle cx="296.9" cy="373.3" r="5.4" fill="#ff0000" stroke="#000" stroke-width="1.0"/>
<circle cx="278" cy="378.3" r="5.4" fill="#ff0000" stroke="#000" stroke-width="1.0"/>
<circle cx="287.3" cy="386" r="5.4" fill="#ff0000" stroke="#000" stroke-width="1.0"/>
<circle cx="295.7" cy="443.4" r="5.4" fill="#ff0000" stroke="#000" stroke-width="1.0"/>
<circle cx="279.4" cy="449.7" r="5.4" fill="#ff0000" stroke="#000" stroke-width="1.0"/>
<circle cx="291.7" cy="451.1" r="5.4" fill="#ff0000" stroke="#000" stroke-width="1.0"/>
<circle cx="283.2" cy="451.1" r="5.4" fill="#ff0000" stroke="#000" stroke-width="1.0"/>
<circle cx="354" cy="270.6" r="5.4" fill="#6dcff6" stroke="#000" stroke-width="1.0"/>
<circle cx="345.6" cy="268.8" r="5.4" fill="#6dcff6" stroke="#000" stroke-width="1.0"/>
<circle cx="366.8" cy="268.8" r="5.4" fill="#6dcff6" stroke="#000" stroke-width="1.0"/>
<circle cx="369.8" cy="272.3" r="5.4" fill="#6dcff6" stroke="#000" stroke-width="1.0"/>
<circle cx="363" cy="269.7" r="5.4" fill="#6dcff6" stroke="#000" stroke-width="1.0"/>
<circle cx="345.4" cy="280.8" r="5.4" fill="#6dcff6" stroke="#000" stroke-width="1.0"/>
<circle cx="370.7" cy="281.3" r="5.4" fill="#6dcff6" stroke="#000" stroke-width="1.0"/>
<circle cx="359.1" cy="288.6" r="5.4" fill="#6dcff6" stroke="#000" stroke-width="1.0"/>
<circle cx="362.1" cy="286.4" r="5.4" fill="#6dcff6" stroke="#000" stroke-width="1.0"/>
<circle cx="351.4" cy="282.1" r="5.4" fill="#6dcff6" stroke="#000" stroke-width="1.0"/>
<circle cx="366" cy="279.6" r="5.4" fill="#6dcff6" stroke="#000" stroke-width="1.0"/>
<circle cx="346.3" cy="291.6" r="5.4" fill="#6dcff6" stroke="#000" stroke-width="1.0"/>
<circle cx="366" cy="294.6" r="5.4" fill="#6dcff6" stroke="#000" stroke-width="1.0"/>
<circle cx="350.1" cy="294.1" r="5.4" fill="#6dcff6" stroke="#000" stroke-width="1.0"/>
<circle cx="369.8" cy="292.4" r="5.4" fill="#6dcff6" stroke="#000" stroke-width="1.0"/>
<circle cx="353.1" cy="297.5" r="5.4" fill="#6dcff6" stroke="#000" stroke-width="1.0"/>
<circle cx="360" cy="302.3" r="5.4" fill="#6dcff6" stroke="#000" stroke-width="1.0"/>
<circle cx="356.1" cy="305.7" r="5.4" fill="#6dcff6" stroke="#000" stroke-width="1.0"/>
<circle cx="399.4" cy="252.6" r="5.4" fill="#0072ce" stroke="#000" stroke-width="1.0"/>
<circle cx="401.1" cy="256.8" r="5.4" fill="#0072ce" stroke="#000" stroke-width="1.0"/>
<circle cx="403" cy="258.5" r="5.4" fill="#0072ce" stroke="#000" stroke-width="1.0"/>
<circle cx="404.5" cy="259.5" r="5.4" fill="#0072ce" stroke="#000" stroke-width="1.0"/>
<circle cx="419" cy="258.5" r="5.4" fill="#0072ce" stroke="#000" stroke-width="1.0"/>
<circle cx="417" cy="260" r="5.4" fill="#0072ce" stroke="#000" stroke-width="1.0"/>
<circle cx="409" cy="264" r="5.4" fill="#0072ce" stroke="#000" stroke-width="1.0"/>
<circle cx="413" cy="264.5" r="5.4" fill="#0072ce" stroke="#000" stroke-width="1.0"/>
<circle cx="411" cy="265.4" r="5.4" fill="#0072ce" stroke="#000" stroke-width="1.0"/>
<circle cx="414.8" cy="260.3" r="5.4" fill="#0072ce" stroke="#000" stroke-width="1.0"/>
<circle cx="406.7" cy="259.8" r="5.4" fill="#0072ce" stroke="#000" stroke-width="1.0"/>
<circle cx="423" cy="254.3" r="5.4" fill="#0072ce" stroke="#000" stroke-width="1.0"/>
<circle cx="447.8" cy="251.3" r="5.4" fill="#ff0000" stroke="#000" stroke-width="1.0"/>
<circle cx="454.7" cy="253.4" r="5.4" fill="#ff0000" stroke="#000" stroke-width="1.0"/>
<circle cx="457" cy="257" r="5.4" fill="#ff0000" stroke="#000" stroke-width="1.0"/>
<circle cx="459.5" cy="259.5" r="5.4" fill="#ff0000" stroke="#000" stroke-width="1.0"/>
<circle cx="477" cy="250" r="5.4" fill="#ff0000" stroke="#000" stroke-width="1.0"/>
<circle cx="474" cy="252.6" r="5.4" fill="#ff0000" stroke="#000" stroke-width="1.0"/>
<circle cx="470.5" cy="255.6" r="5.4" fill="#ff0000" stroke="#000" stroke-width="1.0"/>
<circle cx="467.1" cy="258.6" r="5.4" fill="#ff0000" stroke="#000" stroke-width="1.0"/>
<circle cx="462" cy="261.1" r="5.4" fill="#ff0000" stroke="#000" stroke-width="1.0"/>
<circle cx="464" cy="268" r="5.4" fill="#ff0000" stroke="#000" stroke-width="1.0"/>
<circle cx="465.8" cy="265.4" r="5.4" fill="#ff0000" stroke="#000" stroke-width="1.0"/>
<circle cx="452.5" cy="273.6" r="5.4" fill="#ff0000" stroke="#000" stroke-width="1.0"/>
<circle cx="456" cy="274.8" r="5.4" fill="#ff0000" stroke="#000" stroke-width="1.0"/>
<circle cx="475.7" cy="272.7" r="5.4" fill="#ff0000" stroke="#000" stroke-width="1.0"/>
<circle cx="473.1" cy="275.7" r="5.4" fill="#ff0000" stroke="#000" stroke-width="1.0"/>
<circle cx="469.7" cy="278.3" r="5.4" fill="#ff0000" stroke="#000" stroke-width="1.0"/>
<circle cx="466.2" cy="281.7" r="5.4" fill="#ff0000" stroke="#000" stroke-width="1.0"/>
<circle cx="458.5" cy="279.6" r="5.4" fill="#ff0000" stroke="#000" stroke-width="1.0"/>
<circle cx="462.4" cy="288.6" r="5.4" fill="#ff0000" stroke="#000" stroke-width="1.0"/>
<circle cx="480.8" cy="244" r="5.4" fill="#ff0000" stroke="#000" stroke-width="1.0"/>
<circle cx="526.7" cy="254.3" r="5.4" fill="#6dcff6" stroke="#000" stroke-width="1.0"/>
<circle cx="542.9" cy="261.4" r="5.4" fill="#6dcff6" stroke="#000" stroke-width="1.0"/>
<circle cx="526.7" cy="289.8" r="5.4" fill="#6dcff6" stroke="#000" stroke-width="1.0"/>
<circle cx="543.4" cy="288.6" r="5.4" fill="#6dcff6" stroke="#000" stroke-width="1.0"/>
<circle cx="525.9" cy="295.9" r="5.4" fill="#6dcff6" stroke="#000" stroke-width="1.0"/>
<circle cx="543.7" cy="295.9" r="5.4" fill="#6dcff6" stroke="#000" stroke-width="1.0"/>
<circle cx="540.5" cy="305.6" r="5.4" fill="#6dcff6" stroke="#000" stroke-width="1.0"/>
<circle cx="537" cy="307" r="5.4" fill="#6dcff6" stroke="#000" stroke-width="1.0"/>
<circle cx="534.8" cy="308" r="5.4" fill="#6dcff6" stroke="#000" stroke-width="1.0"/>
<circle cx="529.6" cy="305.6" r="5.4" fill="#6dcff6" stroke="#000" stroke-width="1.0"/>
<circle cx="525.1" cy="312.6" r="5.4" fill="#6dcff6" stroke="#000" stroke-width="1.0"/>
<circle cx="529.1" cy="317.8" r="5.4" fill="#6dcff6" stroke="#000" stroke-width="1.0"/>
<circle cx="544.5" cy="312.9" r="5.4" fill="#6dcff6" stroke="#000" stroke-width="1.0"/>
<circle cx="541.3" cy="320.2" r="5.4" fill="#6dcff6" stroke="#000" stroke-width="1.0"/>
<circle cx="531.6" cy="323.4" r="5.4" fill="#6dcff6" stroke="#000" stroke-width="1.0"/>
<circle cx="525.9" cy="328.8" r="5.4" fill="#6dcff6" stroke="#000" stroke-width="1.0"/>
<circle cx="546.1" cy="328.3" r="5.4" fill="#6dcff6" stroke="#000" stroke-width="1.0"/>
<circle cx="542.1" cy="330.7" r="5.4" fill="#6dcff6" stroke="#000" stroke-width="1.0"/>
<circle cx="538" cy="326.7" r="5.4" fill="#6dcff6" stroke="#000" stroke-width="1.0"/>
<circle cx="528.3" cy="334.7" r="5.4" fill="#6dcff6" stroke="#000" stroke-width="1.0"/>
<circle cx="538.8" cy="337.2" r="5.4" fill="#6dcff6" stroke="#000" stroke-width="1.0"/>
<circle cx="531.9" cy="338" r="5.4" fill="#6dcff6" stroke="#000" stroke-width="1.0"/>
<circle cx="534.8" cy="344.4" r="5.4" fill="#6dcff6" stroke="#000" stroke-width="1.0"/>
<circle cx="535.1" cy="370.3" r="5.4" fill="#6dcff6" stroke="#000" stroke-width="1.0"/>
<circle cx="587.9" cy="255.8" r="5.4" fill="#0072ce" stroke="#000" stroke-width="1.0"/>
<circle cx="579.8" cy="259" r="5.4" fill="#0072ce" stroke="#000" stroke-width="1.0"/>
<circle cx="596.3" cy="258.7" r="5.4" fill="#0072ce" stroke="#000" stroke-width="1.0"/>
<circle cx="579.3" cy="266.8" r="5.4" fill="#0072ce" stroke="#000" stroke-width="1.0"/>
<circle cx="585" cy="273.3" r="5.4" fill="#0072ce" stroke="#000" stroke-width="1.0"/>
<circle cx="591.4" cy="273.6" r="5.4" fill="#0072ce" stroke="#000" stroke-width="1.0"/>
<circle cx="596.8" cy="269.2" r="5.4" fill="#0072ce" stroke="#000" stroke-width="1.0"/>
<circle cx="600.3" cy="278.1" r="5.4" fill="#0072ce" stroke="#000" stroke-width="1.0"/>
<circle cx="576.1" cy="281" r="5.4" fill="#0072ce" stroke="#000" stroke-width="1.0"/>
<circle cx="601.1" cy="283" r="5.4" fill="#0072ce" stroke="#000" stroke-width="1.0"/>
<circle cx="595.5" cy="281.3" r="5.4" fill="#0072ce" stroke="#000" stroke-width="1.0"/>
<circle cx="580.9" cy="287" r="5.4" fill="#0072ce" stroke="#000" stroke-width="1.0"/>
<circle cx="593.9" cy="287.8" r="5.4" fill="#0072ce" stroke="#000" stroke-width="1.0"/>
<circle cx="580.1" cy="281.8" r="5.4" fill="#0072ce" stroke="#000" stroke-width="1.0"/>
<circle cx="587.4" cy="291" r="5.4" fill="#0072ce" stroke="#000" stroke-width="1.0"/>
<circle cx="636.7" cy="248.2" r="5.4" fill="#ff0000" stroke="#000" stroke-width="1.0"/>
<circle cx="633" cy="243.3" r="5.4" fill="#ff0000" stroke="#000" stroke-width="1.0"/>
<circle cx="652.1" cy="249" r="5.4" fill="#ff0000" stroke="#000" stroke-width="1.0"/>
<circle cx="645.3" cy="244.1" r="5.4" fill="#ff0000" stroke="#000" stroke-width="1.0"/>
<circle cx="635.1" cy="257.1" r="5.4" fill="#ff0000" stroke="#000" stroke-width="1.0"/>
<circle cx="631.1" cy="252.2" r="5.4" fill="#ff0000" stroke="#000" stroke-width="1.0"/>
<circle cx="644" cy="257.9" r="5.4" fill="#ff0000" stroke="#000" stroke-width="1.0"/>
<circle cx="647.2" cy="253.8" r="5.4" fill="#ff0000" stroke="#000" stroke-width="1.0"/>
<circle cx="641.1" cy="265.5" r="5.4" fill="#ff0000" stroke="#000" stroke-width="1.0"/>
<circle cx="630.7" cy="269.2" r="5.4" fill="#ff0000" stroke="#000" stroke-width="1.0"/>
<circle cx="650.8" cy="273.3" r="5.4" fill="#ff0000" stroke="#000" stroke-width="1.0"/>
<circle cx="646.4" cy="281" r="5.4" fill="#ff0000" stroke="#000" stroke-width="1.0"/>
<circle cx="635.9" cy="278.1" r="5.4" fill="#ff0000" stroke="#000" stroke-width="1.0"/>
<circle cx="641.1" cy="284.6" r="5.4" fill="#ff0000" stroke="#000" stroke-width="1.0"/>
<circle cx="631.1" cy="291.9" r="5.4" fill="#ff0000" stroke="#000" stroke-width="1.0"/>
<circle cx="645.3" cy="295.1" r="5.4" fill="#ff0000" stroke="#000" stroke-width="1.0"/>
<circle cx="650.8" cy="290.2" r="5.4" fill="#ff0000" stroke="#000" stroke-width="1.0"/>
<circle cx="642.1" cy="303.2" r="5.4" fill="#ff0000" stroke="#000" stroke-width="1.0"/>
<circle cx="636.2" cy="300.8" r="5.4" fill="#ff0000" stroke="#000" stroke-width="1.0"/>
<circle cx="633" cy="309.3" r="5.4" fill="#ff0000" stroke="#000" stroke-width="1.0"/>
<circle cx="645.3" cy="312.1" r="5.4" fill="#ff0000" stroke="#000" stroke-width="1.0"/>
<circle cx="648.9" cy="307.7" r="5.4" fill="#ff0000" stroke="#000" stroke-width="1.0"/>
<circle cx="636.4" cy="319" r="5.4" fill="#ff0000" stroke="#000" stroke-width="1.0"/>
<circle cx="648.9" cy="233.3" r="5.4" fill="#ff0000" stroke="#000" stroke-width="1.0"/>
<line x1="965.7" y1="221.1" x2="965.7" y2="328" stroke="#a3a3a3" stroke-width="1.9"/>
<line x1="957.2" y1="221.1" x2="974.2" y2="221.1" stroke="#a3a3a3" stroke-width="1.9"/>
<rect x="949" y="328" width="34" height="96.4" fill="none" stroke="#a3a3a3" stroke-width="1.9"/>
<line x1="949" y1="366.9" x2="983" y2="366.9" stroke="#a3a3a3" stroke-width="1.9"/>
<line x1="1036.5" y1="255.6" x2="1036.5" y2="286.6" stroke="#a3a3a3" stroke-width="1.9"/>
<line x1="1028" y1="255.6" x2="1045" y2="255.6" stroke="#a3a3a3" stroke-width="1.9"/>
<line x1="1036.5" y1="317.1" x2="1036.5" y2="349.9" stroke="#a3a3a3" stroke-width="1.9"/>
<line x1="1028" y1="349.9" x2="1045" y2="349.9" stroke="#a3a3a3" stroke-width="1.9"/>
<rect x="1019.2" y="286.6" width="34.8" height="30.5" fill="none" stroke="#a3a3a3" stroke-width="1.9"/>
<line x1="1019.2" y1="298.9" x2="1054" y2="298.9" stroke="#a3a3a3" stroke-width="1.9"/>
<line x1="1089.7" y1="187.7" x2="1089.7" y2="236.3" stroke="#a3a3a3" stroke-width="1.9"/>
<line x1="1081.2" y1="187.7" x2="1098.2" y2="187.7" stroke="#a3a3a3" stroke-width="1.9"/>
<line x1="1089.7" y1="252.9" x2="1089.7" y2="263.7" stroke="#a3a3a3" stroke-width="1.9"/>
<line x1="1081.2" y1="263.7" x2="1098.2" y2="263.7" stroke="#a3a3a3" stroke-width="1.9"/>
<rect x="1072.8" y="236.3" width="34.4" height="16.6" fill="none" stroke="#a3a3a3" stroke-width="1.9"/>
<line x1="1072.8" y1="246" x2="1107.2" y2="246" stroke="#a3a3a3" stroke-width="1.9"/>
<line x1="1142.9" y1="197.8" x2="1142.9" y2="220.6" stroke="#a3a3a3" stroke-width="1.9"/>
<line x1="1134.4" y1="197.8" x2="1151.4" y2="197.8" stroke="#a3a3a3" stroke-width="1.9"/>
<line x1="1142.9" y1="266" x2="1142.9" y2="289.6" stroke="#a3a3a3" stroke-width="1.9"/>
<line x1="1134.4" y1="289.6" x2="1151.4" y2="289.6" stroke="#a3a3a3" stroke-width="1.9"/>
<rect x="1125.7" y="220.6" width="34.6" height="45.4" fill="none" stroke="#a3a3a3" stroke-width="1.9"/>
<line x1="1125.7" y1="251.9" x2="1160.3" y2="251.9" stroke="#a3a3a3" stroke-width="1.9"/>
<line x1="1214" y1="273.6" x2="1214" y2="285.6" stroke="#a3a3a3" stroke-width="1.9"/>
<line x1="1205.5" y1="273.6" x2="1222.5" y2="273.6" stroke="#a3a3a3" stroke-width="1.9"/>
<line x1="1214" y1="327.4" x2="1214" y2="378" stroke="#a3a3a3" stroke-width="1.9"/>
<line x1="1205.5" y1="378" x2="1222.5" y2="378" stroke="#a3a3a3" stroke-width="1.9"/>
<rect x="1197" y="285.6" width="34" height="41.8" fill="none" stroke="#a3a3a3" stroke-width="1.9"/>
<line x1="1197" y1="305" x2="1231" y2="305" stroke="#a3a3a3" stroke-width="1.9"/>
<line x1="1267" y1="241.6" x2="1267" y2="265" stroke="#a3a3a3" stroke-width="1.9"/>
<line x1="1258.5" y1="241.6" x2="1275.5" y2="241.6" stroke="#a3a3a3" stroke-width="1.9"/>
<line x1="1267" y1="287.6" x2="1267" y2="296" stroke="#a3a3a3" stroke-width="1.9"/>
<line x1="1258.5" y1="296" x2="1275.5" y2="296" stroke="#a3a3a3" stroke-width="1.9"/>
<rect x="1249.6" y="265" width="34.4" height="22.6" fill="none" stroke="#a3a3a3" stroke-width="1.9"/>
<line x1="1249.6" y1="276" x2="1284" y2="276" stroke="#a3a3a3" stroke-width="1.9"/>
<line x1="1320" y1="229.6" x2="1320" y2="252" stroke="#a3a3a3" stroke-width="1.9"/>
<line x1="1311.5" y1="229.6" x2="1328.5" y2="229.6" stroke="#a3a3a3" stroke-width="1.9"/>
<line x1="1320" y1="292.4" x2="1320" y2="319.4" stroke="#a3a3a3" stroke-width="1.9"/>
<line x1="1311.5" y1="319.4" x2="1328.5" y2="319.4" stroke="#a3a3a3" stroke-width="1.9"/>
<rect x="1302.6" y="252" width="34.8" height="40.4" fill="none" stroke="#a3a3a3" stroke-width="1.9"/>
<line x1="1302.6" y1="279" x2="1337.4" y2="279" stroke="#a3a3a3" stroke-width="1.9"/>
<rect x="846.7" y="419.2" width="25.4" height="11.8" fill="#000"/>
<circle cx="846.7" cy="425.1" r="5.4" fill="#6dcff6" stroke="#000" stroke-width="1.0"/>
<circle cx="854.8" cy="425.1" r="5.4" fill="#6dcff6" stroke="#000" stroke-width="1.0"/>
<circle cx="872.1" cy="425.1" r="5.4" fill="#6dcff6" stroke="#000" stroke-width="1.0"/>
<circle cx="863.7" cy="425.1" r="5.4" fill="#6dcff6" stroke="#000" stroke-width="1.0"/>
<rect x="901" y="419.4" width="23.9" height="11.6" fill="#000"/>
<circle cx="901" cy="425.2" r="5.4" fill="#0072ce" stroke="#000" stroke-width="1.0"/>
<circle cx="924.9" cy="425.2" r="5.4" fill="#0072ce" stroke="#000" stroke-width="1.0"/>
<circle cx="965.7" cy="221.1" r="5.4" fill="#ff0000" stroke="#000" stroke-width="1.0"/>
<circle cx="965.7" cy="254.9" r="5.4" fill="#ff0000" stroke="#000" stroke-width="1.0"/>
<circle cx="965.7" cy="294" r="5.4" fill="#ff0000" stroke="#000" stroke-width="1.0"/>
<circle cx="957.6" cy="313.8" r="5.4" fill="#ff0000" stroke="#000" stroke-width="1.0"/>
<circle cx="973.8" cy="313" r="5.4" fill="#ff0000" stroke="#000" stroke-width="1.0"/>
<circle cx="975.4" cy="320.4" r="5.4" fill="#ff0000" stroke="#000" stroke-width="1.0"/>
<circle cx="955.7" cy="329.7" r="5.4" fill="#ff0000" stroke="#000" stroke-width="1.0"/>
<circle cx="960.8" cy="333.4" r="5.4" fill="#ff0000" stroke="#000" stroke-width="1.0"/>
<circle cx="970.6" cy="333.4" r="5.4" fill="#ff0000" stroke="#000" stroke-width="1.0"/>
<circle cx="965.7" cy="334" r="5.4" fill="#ff0000" stroke="#000" stroke-width="1.0"/>
<circle cx="965.7" cy="351" r="5.4" fill="#ff0000" stroke="#000" stroke-width="1.0"/>
<circle cx="957.3" cy="366.1" r="5.4" fill="#ff0000" stroke="#000" stroke-width="1.0"/>
<circle cx="973.8" cy="365.8" r="5.4" fill="#ff0000" stroke="#000" stroke-width="1.0"/>
<circle cx="974.6" cy="370.1" r="5.4" fill="#ff0000" stroke="#000" stroke-width="1.0"/>
<circle cx="962.8" cy="376.3" r="5.4" fill="#ff0000" stroke="#000" stroke-width="1.0"/>
<circle cx="968.6" cy="380.7" r="5.4" fill="#ff0000" stroke="#000" stroke-width="1.0"/>
<circle cx="956.8" cy="412.2" r="5.4" fill="#ff0000" stroke="#000" stroke-width="1.0"/>
<circle cx="958.4" cy="425.2" r="5.4" fill="#ff0000" stroke="#000" stroke-width="1.0"/>
<circle cx="960.5" cy="425.2" r="5.4" fill="#ff0000" stroke="#000" stroke-width="1.0"/>
<circle cx="975.4" cy="425.2" r="5.4" fill="#ff0000" stroke="#000" stroke-width="1.0"/>
<circle cx="973" cy="425.2" r="5.4" fill="#ff0000" stroke="#000" stroke-width="1.0"/>
<circle cx="962.5" cy="425.2" r="5.4" fill="#ff0000" stroke="#000" stroke-width="1.0"/>
<circle cx="971" cy="425.2" r="5.4" fill="#ff0000" stroke="#000" stroke-width="1.0"/>
<circle cx="968.5" cy="425.2" r="5.4" fill="#ff0000" stroke="#000" stroke-width="1.0"/>
<circle cx="965.7" cy="427.6" r="5.4" fill="#ff0000" stroke="#000" stroke-width="1.0"/>
<circle cx="1035" cy="283" r="5.4" fill="#6dcff6" stroke="#000" stroke-width="1.0"/>
<circle cx="1031" cy="296" r="5.4" fill="#6dcff6" stroke="#000" stroke-width="1.0"/>
<circle cx="1040" cy="305" r="5.4" fill="#6dcff6" stroke="#000" stroke-width="1.0"/>
<circle cx="1034" cy="312" r="5.4" fill="#6dcff6" stroke="#000" stroke-width="1.0"/>
<circle cx="1042" cy="315" r="5.4" fill="#6dcff6" stroke="#000" stroke-width="1.0"/>
<circle cx="1036" cy="300" r="5.4" fill="#6dcff6" stroke="#000" stroke-width="1.0"/>
<circle cx="1030" cy="315" r="5.4" fill="#6dcff6" stroke="#000" stroke-width="1.0"/>
<circle cx="1036.5" cy="255.4" r="5.4" fill="#6dcff6" stroke="#000" stroke-width="1.0"/>
<circle cx="1044.6" cy="267.7" r="5.4" fill="#6dcff6" stroke="#000" stroke-width="1.0"/>
<circle cx="1028.3" cy="278.3" r="5.4" fill="#6dcff6" stroke="#000" stroke-width="1.0"/>
<circle cx="1046.3" cy="285.2" r="5.4" fill="#6dcff6" stroke="#000" stroke-width="1.0"/>
<circle cx="1040.3" cy="280.6" r="5.4" fill="#6dcff6" stroke="#000" stroke-width="1.0"/>
<circle cx="1026.6" cy="286.6" r="5.4" fill="#6dcff6" stroke="#000" stroke-width="1.0"/>
<circle cx="1032.9" cy="290.9" r="5.4" fill="#6dcff6" stroke="#000" stroke-width="1.0"/>
<circle cx="1042" cy="287.4" r="5.4" fill="#6dcff6" stroke="#000" stroke-width="1.0"/>
<circle cx="1037.7" cy="297.7" r="5.4" fill="#6dcff6" stroke="#000" stroke-width="1.0"/>
<circle cx="1044.6" cy="302" r="5.4" fill="#6dcff6" stroke="#000" stroke-width="1.0"/>
<circle cx="1028.3" cy="304.6" r="5.4" fill="#6dcff6" stroke="#000" stroke-width="1.0"/>
<circle cx="1027.4" cy="310.2" r="5.4" fill="#6dcff6" stroke="#000" stroke-width="1.0"/>
<circle cx="1038.6" cy="313.2" r="5.4" fill="#6dcff6" stroke="#000" stroke-width="1.0"/>
<circle cx="1045.4" cy="308.9" r="5.4" fill="#6dcff6" stroke="#000" stroke-width="1.0"/>
<circle cx="1047.2" cy="318.3" r="5.4" fill="#6dcff6" stroke="#000" stroke-width="1.0"/>
<circle cx="1026.6" cy="320" r="5.4" fill="#6dcff6" stroke="#000" stroke-width="1.0"/>
<circle cx="1032.6" cy="325.2" r="5.4" fill="#6dcff6" stroke="#000" stroke-width="1.0"/>
<circle cx="1041.2" cy="322.2" r="5.4" fill="#6dcff6" stroke="#000" stroke-width="1.0"/>
<circle cx="1036.5" cy="333.7" r="5.4" fill="#6dcff6" stroke="#000" stroke-width="1.0"/>
<circle cx="1045" cy="346.7" r="5.4" fill="#6dcff6" stroke="#000" stroke-width="1.0"/>
<circle cx="1028.8" cy="349.9" r="5.4" fill="#6dcff6" stroke="#000" stroke-width="1.0"/>
<circle cx="1086" cy="238" r="5.4" fill="#0072ce" stroke="#000" stroke-width="1.0"/>
<circle cx="1093" cy="247" r="5.4" fill="#0072ce" stroke="#000" stroke-width="1.0"/>
<circle cx="1084" cy="254" r="5.4" fill="#0072ce" stroke="#000" stroke-width="1.0"/>
<circle cx="1091" cy="253" r="5.4" fill="#0072ce" stroke="#000" stroke-width="1.0"/>
<circle cx="1097" cy="256" r="5.4" fill="#0072ce" stroke="#000" stroke-width="1.0"/>
<circle cx="1088" cy="259" r="5.4" fill="#0072ce" stroke="#000" stroke-width="1.0"/>
<circle cx="1094" cy="236" r="5.4" fill="#0072ce" stroke="#000" stroke-width="1.0"/>
<circle cx="1085" cy="247" r="5.4" fill="#0072ce" stroke="#000" stroke-width="1.0"/>
<circle cx="1089.7" cy="188.5" r="5.4" fill="#0072ce" stroke="#000" stroke-width="1.0"/>
<circle cx="1080.2" cy="216.3" r="5.4" fill="#0072ce" stroke="#000" stroke-width="1.0"/>
<circle cx="1099.7" cy="225.4" r="5.4" fill="#0072ce" stroke="#000" stroke-width="1.0"/>
<circle cx="1089.7" cy="227.1" r="5.4" fill="#0072ce" stroke="#000" stroke-width="1.0"/>
<circle cx="1098.9" cy="231.1" r="5.4" fill="#0072ce" stroke="#000" stroke-width="1.0"/>
<circle cx="1080.8" cy="235.1" r="5.4" fill="#0072ce" stroke="#000" stroke-width="1.0"/>
<circle cx="1094.9" cy="241.4" r="5.4" fill="#0072ce" stroke="#000" stroke-width="1.0"/>
<circle cx="1085" cy="243" r="5.4" fill="#0072ce" stroke="#000" stroke-width="1.0"/>
<circle cx="1089.7" cy="244.3" r="5.4" fill="#0072ce" stroke="#000" stroke-width="1.0"/>
<circle cx="1078.9" cy="248.9" r="5.4" fill="#0072ce" stroke="#000" stroke-width="1.0"/>
<circle cx="1101.7" cy="250" r="5.4" fill="#0072ce" stroke="#000" stroke-width="1.0"/>
<circle cx="1100.6" cy="252.3" r="5.4" fill="#0072ce" stroke="#000" stroke-width="1.0"/>
<circle cx="1082.3" cy="251.7" r="5.4" fill="#0072ce" stroke="#000" stroke-width="1.0"/>
<circle cx="1097.7" cy="248.9" r="5.4" fill="#0072ce" stroke="#000" stroke-width="1.0"/>
<circle cx="1094.9" cy="258" r="5.4" fill="#0072ce" stroke="#000" stroke-width="1.0"/>
<circle cx="1081.7" cy="258" r="5.4" fill="#0072ce" stroke="#000" stroke-width="1.0"/>
<circle cx="1087.4" cy="263.7" r="5.4" fill="#0072ce" stroke="#000" stroke-width="1.0"/>
<circle cx="1090.9" cy="262" r="5.4" fill="#0072ce" stroke="#000" stroke-width="1.0"/>
<circle cx="1132.6" cy="204.9" r="5.4" fill="#ff0000" stroke="#000" stroke-width="1.0"/>
<circle cx="1137.9" cy="208.3" r="5.4" fill="#ff0000" stroke="#000" stroke-width="1.0"/>
<circle cx="1152.9" cy="207.7" r="5.4" fill="#ff0000" stroke="#000" stroke-width="1.0"/>
<circle cx="1142.3" cy="215.1" r="5.4" fill="#ff0000" stroke="#000" stroke-width="1.0"/>
<circle cx="1147.8" cy="215.7" r="5.4" fill="#ff0000" stroke="#000" stroke-width="1.0"/>
<circle cx="1134.9" cy="221.4" r="5.4" fill="#ff0000" stroke="#000" stroke-width="1.0"/>
<circle cx="1138.3" cy="227.7" r="5.4" fill="#ff0000" stroke="#000" stroke-width="1.0"/>
<circle cx="1150.9" cy="226.3" r="5.4" fill="#ff0000" stroke="#000" stroke-width="1.0"/>
<circle cx="1147.4" cy="237.4" r="5.4" fill="#ff0000" stroke="#000" stroke-width="1.0"/>
<circle cx="1132.9" cy="243.1" r="5.4" fill="#ff0000" stroke="#000" stroke-width="1.0"/>
<circle cx="1142.3" cy="255.1" r="5.4" fill="#ff0000" stroke="#000" stroke-width="1.0"/>
<circle cx="1138.3" cy="252.1" r="5.4" fill="#ff0000" stroke="#000" stroke-width="1.0"/>
<circle cx="1148" cy="252.9" r="5.4" fill="#ff0000" stroke="#000" stroke-width="1.0"/>
<circle cx="1152.9" cy="250.6" r="5.4" fill="#ff0000" stroke="#000" stroke-width="1.0"/>
<circle cx="1133.7" cy="263.5" r="5.4" fill="#ff0000" stroke="#000" stroke-width="1.0"/>
<circle cx="1138.3" cy="267.1" r="5.4" fill="#ff0000" stroke="#000" stroke-width="1.0"/>
<circle cx="1140.6" cy="270.3" r="5.4" fill="#ff0000" stroke="#000" stroke-width="1.0"/>
<circle cx="1147.4" cy="266" r="5.4" fill="#ff0000" stroke="#000" stroke-width="1.0"/>
<circle cx="1151.8" cy="262" r="5.4" fill="#ff0000" stroke="#000" stroke-width="1.0"/>
<circle cx="1151" cy="279" r="5.4" fill="#ff0000" stroke="#000" stroke-width="1.0"/>
<circle cx="1134.6" cy="289.6" r="5.4" fill="#ff0000" stroke="#000" stroke-width="1.0"/>
<circle cx="1142.9" cy="197.8" r="5.4" fill="#ff0000" stroke="#000" stroke-width="1.0"/>
<circle cx="1197.6" cy="273.6" r="5.4" fill="#6dcff6" stroke="#000" stroke-width="1.0"/>
<circle cx="1230" cy="273" r="5.4" fill="#6dcff6" stroke="#000" stroke-width="1.0"/>
<circle cx="1207" cy="280" r="5.4" fill="#6dcff6" stroke="#000" stroke-width="1.0"/>
<circle cx="1222" cy="277" r="5.4" fill="#6dcff6" stroke="#000" stroke-width="1.0"/>
<circle cx="1203" cy="283" r="5.4" fill="#6dcff6" stroke="#000" stroke-width="1.0"/>
<circle cx="1225" cy="281.6" r="5.4" fill="#6dcff6" stroke="#000" stroke-width="1.0"/>
<circle cx="1215.6" cy="285.6" r="5.4" fill="#6dcff6" stroke="#000" stroke-width="1.0"/>
<circle cx="1211.4" cy="293" r="5.4" fill="#6dcff6" stroke="#000" stroke-width="1.0"/>
<circle cx="1202" cy="300.6" r="5.4" fill="#6dcff6" stroke="#000" stroke-width="1.0"/>
<circle cx="1226" cy="301" r="5.4" fill="#6dcff6" stroke="#000" stroke-width="1.0"/>
<circle cx="1217" cy="308" r="5.4" fill="#6dcff6" stroke="#000" stroke-width="1.0"/>
<circle cx="1211.4" cy="310" r="5.4" fill="#6dcff6" stroke="#000" stroke-width="1.0"/>
<circle cx="1205.6" cy="303.4" r="5.4" fill="#6dcff6" stroke="#000" stroke-width="1.0"/>
<circle cx="1222" cy="304" r="5.4" fill="#6dcff6" stroke="#000" stroke-width="1.0"/>
<circle cx="1204.4" cy="315.6" r="5.4" fill="#6dcff6" stroke="#000" stroke-width="1.0"/>
<circle cx="1223" cy="316" r="5.4" fill="#6dcff6" stroke="#000" stroke-width="1.0"/>
<circle cx="1213.6" cy="327" r="5.4" fill="#6dcff6" stroke="#000" stroke-width="1.0"/>
<circle cx="1205" cy="331.6" r="5.4" fill="#6dcff6" stroke="#000" stroke-width="1.0"/>
<circle cx="1222.4" cy="334.4" r="5.4" fill="#6dcff6" stroke="#000" stroke-width="1.0"/>
<circle cx="1210.6" cy="339.6" r="5.4" fill="#6dcff6" stroke="#000" stroke-width="1.0"/>
<circle cx="1217" cy="346" r="5.4" fill="#6dcff6" stroke="#000" stroke-width="1.0"/>
<circle cx="1214" cy="378" r="5.4" fill="#6dcff6" stroke="#000" stroke-width="1.0"/>
<circle cx="1267" cy="252" r="5.4" fill="#0072ce" stroke="#000" stroke-width="1.0"/>
<circle cx="1262" cy="266" r="5.4" fill="#0072ce" stroke="#000" stroke-width="1.0"/>
<circle cx="1270" cy="272" r="5.4" fill="#0072ce" stroke="#000" stroke-width="1.0"/>
<circle cx="1257" cy="275" r="5.4" fill="#0072ce" stroke="#000" stroke-width="1.0"/>
<circle cx="1274" cy="276" r="5.4" fill="#0072ce" stroke="#000" stroke-width="1.0"/>
<circle cx="1266" cy="282" r="5.4" fill="#0072ce" stroke="#000" stroke-width="1.0"/>
<circle cx="1271" cy="285" r="5.4" fill="#0072ce" stroke="#000" stroke-width="1.0"/>
<circle cx="1262" cy="291" r="5.4" fill="#0072ce" stroke="#000" stroke-width="1.0"/>
<circle cx="1268" cy="262" r="5.4" fill="#0072ce" stroke="#000" stroke-width="1.0"/>
<circle cx="1257" cy="264" r="5.4" fill="#0072ce" stroke="#000" stroke-width="1.0"/>
<circle cx="1279" cy="272" r="5.4" fill="#0072ce" stroke="#000" stroke-width="1.0"/>
<circle cx="1267" cy="241.6" r="5.4" fill="#0072ce" stroke="#000" stroke-width="1.0"/>
<circle cx="1258" cy="256" r="5.4" fill="#0072ce" stroke="#000" stroke-width="1.0"/>
<circle cx="1272" cy="258" r="5.4" fill="#0072ce" stroke="#000" stroke-width="1.0"/>
<circle cx="1275" cy="254.4" r="5.4" fill="#0072ce" stroke="#000" stroke-width="1.0"/>
<circle cx="1262" cy="260.4" r="5.4" fill="#0072ce" stroke="#000" stroke-width="1.0"/>
<circle cx="1277" cy="263" r="5.4" fill="#0072ce" stroke="#000" stroke-width="1.0"/>
<circle cx="1261" cy="269.6" r="5.4" fill="#0072ce" stroke="#000" stroke-width="1.0"/>
<circle cx="1272.4" cy="268.4" r="5.4" fill="#0072ce" stroke="#000" stroke-width="1.0"/>
<circle cx="1255" cy="281.6" r="5.4" fill="#0072ce" stroke="#000" stroke-width="1.0"/>
<circle cx="1278.4" cy="281" r="5.4" fill="#0072ce" stroke="#000" stroke-width="1.0"/>
<circle cx="1263.6" cy="276" r="5.4" fill="#0072ce" stroke="#000" stroke-width="1.0"/>
<circle cx="1259" cy="288" r="5.4" fill="#0072ce" stroke="#000" stroke-width="1.0"/>
<circle cx="1276" cy="288" r="5.4" fill="#0072ce" stroke="#000" stroke-width="1.0"/>
<circle cx="1268" cy="292" r="5.4" fill="#0072ce" stroke="#000" stroke-width="1.0"/>
<circle cx="1264" cy="296" r="5.4" fill="#0072ce" stroke="#000" stroke-width="1.0"/>
<circle cx="1310.4" cy="225" r="5.4" fill="#ff0000" stroke="#000" stroke-width="1.0"/>
<circle cx="1329.6" cy="228" r="5.4" fill="#ff0000" stroke="#000" stroke-width="1.0"/>
<circle cx="1320" cy="229.6" r="5.4" fill="#ff0000" stroke="#000" stroke-width="1.0"/>
<circle cx="1329.6" cy="242.4" r="5.4" fill="#ff0000" stroke="#000" stroke-width="1.0"/>
<circle cx="1310.4" cy="246.6" r="5.4" fill="#ff0000" stroke="#000" stroke-width="1.0"/>
<circle cx="1325" cy="250" r="5.4" fill="#ff0000" stroke="#000" stroke-width="1.0"/>
<circle cx="1315" cy="251.6" r="5.4" fill="#ff0000" stroke="#000" stroke-width="1.0"/>
<circle cx="1320" cy="256.4" r="5.4" fill="#ff0000" stroke="#000" stroke-width="1.0"/>
<circle cx="1310.4" cy="267.6" r="5.4" fill="#ff0000" stroke="#000" stroke-width="1.0"/>
<circle cx="1330" cy="276.4" r="5.4" fill="#ff0000" stroke="#000" stroke-width="1.0"/>
<circle cx="1314" cy="278" r="5.4" fill="#ff0000" stroke="#000" stroke-width="1.0"/>
<circle cx="1326" cy="279" r="5.4" fill="#ff0000" stroke="#000" stroke-width="1.0"/>
<circle cx="1317" cy="279.4" r="5.4" fill="#ff0000" stroke="#000" stroke-width="1.0"/>
<circle cx="1312" cy="285.6" r="5.4" fill="#ff0000" stroke="#000" stroke-width="1.0"/>
<circle cx="1328" cy="286" r="5.4" fill="#ff0000" stroke="#000" stroke-width="1.0"/>
<circle cx="1310" cy="290" r="5.4" fill="#ff0000" stroke="#000" stroke-width="1.0"/>
<circle cx="1329" cy="291" r="5.4" fill="#ff0000" stroke="#000" stroke-width="1.0"/>
<circle cx="1317" cy="294.4" r="5.4" fill="#ff0000" stroke="#000" stroke-width="1.0"/>
<circle cx="1323" cy="299.6" r="5.4" fill="#ff0000" stroke="#000" stroke-width="1.0"/>
<circle cx="1311.6" cy="307.6" r="5.4" fill="#ff0000" stroke="#000" stroke-width="1.0"/>
<circle cx="1324" cy="312" r="5.4" fill="#ff0000" stroke="#000" stroke-width="1.0"/>
<circle cx="1328" cy="307.4" r="5.4" fill="#ff0000" stroke="#000" stroke-width="1.0"/>
<circle cx="1315.6" cy="319.4" r="5.4" fill="#ff0000" stroke="#000" stroke-width="1.0"/>
<line x1="825" y1="424.1" x2="1356" y2="424.1" stroke="#000" stroke-width="3.0" stroke-linecap="round" stroke-dasharray="0 7.86"/>
<line x1="1658.9" y1="324.3" x2="1658.9" y2="365.9" stroke="#a3a3a3" stroke-width="1.9"/>
<line x1="1650.4" y1="324.3" x2="1667.4" y2="324.3" stroke="#a3a3a3" stroke-width="1.9"/>
<rect x="1641.6" y="365.9" width="34.7" height="58.3" fill="none" stroke="#a3a3a3" stroke-width="1.9"/>
<line x1="1641.6" y1="392.6" x2="1676.3" y2="392.6" stroke="#a3a3a3" stroke-width="1.9"/>
<line x1="1729.7" y1="330" x2="1729.7" y2="352.1" stroke="#a3a3a3" stroke-width="1.9"/>
<line x1="1721.2" y1="330" x2="1738.2" y2="330" stroke="#a3a3a3" stroke-width="1.9"/>
<line x1="1729.7" y1="376.9" x2="1729.7" y2="390.7" stroke="#a3a3a3" stroke-width="1.9"/>
<line x1="1721.2" y1="390.7" x2="1738.2" y2="390.7" stroke="#a3a3a3" stroke-width="1.9"/>
<rect x="1712.4" y="352.1" width="35.1" height="24.8" fill="none" stroke="#a3a3a3" stroke-width="1.9"/>
<line x1="1712.4" y1="364" x2="1747.5" y2="364" stroke="#a3a3a3" stroke-width="1.9"/>
<line x1="1782.9" y1="284.9" x2="1782.9" y2="309.3" stroke="#a3a3a3" stroke-width="1.9"/>
<line x1="1774.4" y1="284.9" x2="1791.4" y2="284.9" stroke="#a3a3a3" stroke-width="1.9"/>
<line x1="1782.9" y1="326" x2="1782.9" y2="336.8" stroke="#a3a3a3" stroke-width="1.9"/>
<line x1="1774.4" y1="336.8" x2="1791.4" y2="336.8" stroke="#a3a3a3" stroke-width="1.9"/>
<rect x="1765.3" y="309.3" width="34.9" height="16.7" fill="none" stroke="#a3a3a3" stroke-width="1.9"/>
<line x1="1765.3" y1="318" x2="1800.2" y2="318" stroke="#a3a3a3" stroke-width="1.9"/>
<line x1="1835.9" y1="248.5" x2="1835.9" y2="281.7" stroke="#a3a3a3" stroke-width="1.9"/>
<line x1="1827.4" y1="248.5" x2="1844.4" y2="248.5" stroke="#a3a3a3" stroke-width="1.9"/>
<line x1="1835.9" y1="336.5" x2="1835.9" y2="364.3" stroke="#a3a3a3" stroke-width="1.9"/>
<line x1="1827.4" y1="364.3" x2="1844.4" y2="364.3" stroke="#a3a3a3" stroke-width="1.9"/>
<rect x="1818.7" y="281.7" width="34.7" height="54.8" fill="none" stroke="#a3a3a3" stroke-width="1.9"/>
<line x1="1818.7" y1="312.4" x2="1853.4" y2="312.4" stroke="#a3a3a3" stroke-width="1.9"/>
<line x1="1906.4" y1="347.7" x2="1906.4" y2="370.3" stroke="#a3a3a3" stroke-width="1.9"/>
<line x1="1897.9" y1="347.7" x2="1914.9" y2="347.7" stroke="#a3a3a3" stroke-width="1.9"/>
<line x1="1906.4" y1="396.9" x2="1906.4" y2="421" stroke="#a3a3a3" stroke-width="1.9"/>
<line x1="1897.9" y1="421" x2="1914.9" y2="421" stroke="#a3a3a3" stroke-width="1.9"/>
<rect x="1889.8" y="370.3" width="34.4" height="26.6" fill="none" stroke="#a3a3a3" stroke-width="1.9"/>
<line x1="1889.8" y1="379.3" x2="1924.2" y2="379.3" stroke="#a3a3a3" stroke-width="1.9"/>
<line x1="1959.8" y1="326" x2="1959.8" y2="336.5" stroke="#a3a3a3" stroke-width="1.9"/>
<line x1="1951.3" y1="326" x2="1968.3" y2="326" stroke="#a3a3a3" stroke-width="1.9"/>
<line x1="1959.8" y1="355.5" x2="1959.8" y2="363.1" stroke="#a3a3a3" stroke-width="1.9"/>
<line x1="1951.3" y1="363.1" x2="1968.3" y2="363.1" stroke="#a3a3a3" stroke-width="1.9"/>
<rect x="1942.6" y="336.5" width="34.4" height="19" fill="none" stroke="#a3a3a3" stroke-width="1.9"/>
<line x1="1942.6" y1="346" x2="1977" y2="346" stroke="#a3a3a3" stroke-width="1.9"/>
<line x1="2013.2" y1="312" x2="2013.2" y2="325.1" stroke="#a3a3a3" stroke-width="1.9"/>
<line x1="2004.7" y1="312" x2="2021.7" y2="312" stroke="#a3a3a3" stroke-width="1.9"/>
<line x1="2013.2" y1="379.9" x2="2013.2" y2="419.1" stroke="#a3a3a3" stroke-width="1.9"/>
<line x1="2004.7" y1="419.1" x2="2021.7" y2="419.1" stroke="#a3a3a3" stroke-width="1.9"/>
<rect x="1995.6" y="325.1" width="33.8" height="54.8" fill="none" stroke="#a3a3a3" stroke-width="1.9"/>
<line x1="1995.6" y1="355.8" x2="2029.4" y2="355.8" stroke="#a3a3a3" stroke-width="1.9"/>
<rect x="1540" y="418.3" width="25.9" height="11.8" fill="#000"/>
<circle cx="1540" cy="424.2" r="5.4" fill="#6dcff6" stroke="#000" stroke-width="1.0"/>
<circle cx="1548.9" cy="424.2" r="5.4" fill="#6dcff6" stroke="#000" stroke-width="1.0"/>
<circle cx="1565.9" cy="424.2" r="5.4" fill="#6dcff6" stroke="#000" stroke-width="1.0"/>
<circle cx="1557" cy="424.2" r="5.4" fill="#6dcff6" stroke="#000" stroke-width="1.0"/>
<rect x="1593.9" y="418.4" width="23.8" height="11.6" fill="#000"/>
<circle cx="1593.9" cy="424.2" r="5.4" fill="#0072ce" stroke="#000" stroke-width="1.0"/>
<circle cx="1617.7" cy="424.2" r="5.4" fill="#0072ce" stroke="#000" stroke-width="1.0"/>
<circle cx="1658.9" cy="324.3" r="5.4" fill="#ff0000" stroke="#000" stroke-width="1.0"/>
<circle cx="1675.1" cy="343.2" r="5.4" fill="#ff0000" stroke="#000" stroke-width="1.0"/>
<circle cx="1642.8" cy="348.2" r="5.4" fill="#ff0000" stroke="#000" stroke-width="1.0"/>
<circle cx="1650.5" cy="352.1" r="5.4" fill="#ff0000" stroke="#000" stroke-width="1.0"/>
<circle cx="1666.7" cy="359.6" r="5.4" fill="#ff0000" stroke="#000" stroke-width="1.0"/>
<circle cx="1663" cy="365.6" r="5.4" fill="#ff0000" stroke="#000" stroke-width="1.0"/>
<circle cx="1654.1" cy="364.3" r="5.4" fill="#ff0000" stroke="#000" stroke-width="1.0"/>
<circle cx="1650.5" cy="372.4" r="5.4" fill="#ff0000" stroke="#000" stroke-width="1.0"/>
<circle cx="1667" cy="372.4" r="5.4" fill="#ff0000" stroke="#000" stroke-width="1.0"/>
<circle cx="1656.5" cy="384.2" r="5.4" fill="#ff0000" stroke="#000" stroke-width="1.0"/>
<circle cx="1662.2" cy="384.2" r="5.4" fill="#ff0000" stroke="#000" stroke-width="1.0"/>
<circle cx="1650" cy="384.2" r="5.4" fill="#ff0000" stroke="#000" stroke-width="1.0"/>
<circle cx="1667.8" cy="384.2" r="5.4" fill="#ff0000" stroke="#000" stroke-width="1.0"/>
<circle cx="1649.6" cy="404.1" r="5.4" fill="#ff0000" stroke="#000" stroke-width="1.0"/>
<circle cx="1658.9" cy="404.1" r="5.4" fill="#ff0000" stroke="#000" stroke-width="1.0"/>
<circle cx="1668.3" cy="404.1" r="5.4" fill="#ff0000" stroke="#000" stroke-width="1.0"/>
<circle cx="1646.8" cy="424.2" r="5.4" fill="#ff0000" stroke="#000" stroke-width="1.0"/>
<circle cx="1671.9" cy="424.2" r="5.4" fill="#ff0000" stroke="#000" stroke-width="1.0"/>
<circle cx="1649" cy="424.2" r="5.4" fill="#ff0000" stroke="#000" stroke-width="1.0"/>
<circle cx="1669.5" cy="424.2" r="5.4" fill="#ff0000" stroke="#000" stroke-width="1.0"/>
<circle cx="1655" cy="424.2" r="5.4" fill="#ff0000" stroke="#000" stroke-width="1.0"/>
<circle cx="1663" cy="424.2" r="5.4" fill="#ff0000" stroke="#000" stroke-width="1.0"/>
<circle cx="1651.5" cy="424.2" r="5.4" fill="#ff0000" stroke="#000" stroke-width="1.0"/>
<circle cx="1666.5" cy="424.2" r="5.4" fill="#ff0000" stroke="#000" stroke-width="1.0"/>
<circle cx="1726" cy="344" r="5.4" fill="#6dcff6" stroke="#000" stroke-width="1.0"/>
<circle cx="1733" cy="356" r="5.4" fill="#6dcff6" stroke="#000" stroke-width="1.0"/>
<circle cx="1725" cy="360" r="5.4" fill="#6dcff6" stroke="#000" stroke-width="1.0"/>
<circle cx="1732" cy="366" r="5.4" fill="#6dcff6" stroke="#000" stroke-width="1.0"/>
<circle cx="1736" cy="372" r="5.4" fill="#6dcff6" stroke="#000" stroke-width="1.0"/>
<circle cx="1725" cy="370" r="5.4" fill="#6dcff6" stroke="#000" stroke-width="1.0"/>
<circle cx="1730" cy="378" r="5.4" fill="#6dcff6" stroke="#000" stroke-width="1.0"/>
<circle cx="1733" cy="344" r="5.4" fill="#6dcff6" stroke="#000" stroke-width="1.0"/>
<circle cx="1729.7" cy="330" r="5.4" fill="#6dcff6" stroke="#000" stroke-width="1.0"/>
<circle cx="1737.9" cy="337.2" r="5.4" fill="#6dcff6" stroke="#000" stroke-width="1.0"/>
<circle cx="1721.8" cy="340.5" r="5.4" fill="#6dcff6" stroke="#000" stroke-width="1.0"/>
<circle cx="1741.5" cy="345.3" r="5.4" fill="#6dcff6" stroke="#000" stroke-width="1.0"/>
<circle cx="1718.5" cy="347.3" r="5.4" fill="#6dcff6" stroke="#000" stroke-width="1.0"/>
<circle cx="1736.3" cy="348.1" r="5.4" fill="#6dcff6" stroke="#000" stroke-width="1.0"/>
<circle cx="1728.6" cy="352.6" r="5.4" fill="#6dcff6" stroke="#000" stroke-width="1.0"/>
<circle cx="1722.9" cy="351" r="5.4" fill="#6dcff6" stroke="#000" stroke-width="1.0"/>
<circle cx="1743.1" cy="356.7" r="5.4" fill="#6dcff6" stroke="#000" stroke-width="1.0"/>
<circle cx="1718.8" cy="357.5" r="5.4" fill="#6dcff6" stroke="#000" stroke-width="1.0"/>
<circle cx="1737.5" cy="360.7" r="5.4" fill="#6dcff6" stroke="#000" stroke-width="1.0"/>
<circle cx="1740.7" cy="363.6" r="5.4" fill="#6dcff6" stroke="#000" stroke-width="1.0"/>
<circle cx="1729.4" cy="367.2" r="5.4" fill="#6dcff6" stroke="#000" stroke-width="1.0"/>
<circle cx="1721.8" cy="364.8" r="5.4" fill="#6dcff6" stroke="#000" stroke-width="1.0"/>
<circle cx="1729.7" cy="371.2" r="5.4" fill="#6dcff6" stroke="#000" stroke-width="1.0"/>
<circle cx="1738.6" cy="376.1" r="5.4" fill="#6dcff6" stroke="#000" stroke-width="1.0"/>
<circle cx="1720.9" cy="375" r="5.4" fill="#6dcff6" stroke="#000" stroke-width="1.0"/>
<circle cx="1723.7" cy="382.6" r="5.4" fill="#6dcff6" stroke="#000" stroke-width="1.0"/>
<circle cx="1735.8" cy="383.4" r="5.4" fill="#6dcff6" stroke="#000" stroke-width="1.0"/>
<circle cx="1727.7" cy="385.8" r="5.4" fill="#6dcff6" stroke="#000" stroke-width="1.0"/>
<circle cx="1729.7" cy="390.7" r="5.4" fill="#6dcff6" stroke="#000" stroke-width="1.0"/>
<circle cx="1778" cy="312" r="5.4" fill="#0072ce" stroke="#000" stroke-width="1.0"/>
<circle cx="1786" cy="310" r="5.4" fill="#0072ce" stroke="#000" stroke-width="1.0"/>
<circle cx="1783" cy="322" r="5.4" fill="#0072ce" stroke="#000" stroke-width="1.0"/>
<circle cx="1776" cy="326" r="5.4" fill="#0072ce" stroke="#000" stroke-width="1.0"/>
<circle cx="1790" cy="320" r="5.4" fill="#0072ce" stroke="#000" stroke-width="1.0"/>
<circle cx="1781" cy="328" r="5.4" fill="#0072ce" stroke="#000" stroke-width="1.0"/>
<circle cx="1787" cy="327" r="5.4" fill="#0072ce" stroke="#000" stroke-width="1.0"/>
<circle cx="1772" cy="316" r="5.4" fill="#0072ce" stroke="#000" stroke-width="1.0"/>
<circle cx="1794" cy="314" r="5.4" fill="#0072ce" stroke="#000" stroke-width="1.0"/>
<circle cx="1783" cy="308" r="5.4" fill="#0072ce" stroke="#000" stroke-width="1.0"/>
<circle cx="1774.7" cy="287.1" r="5.4" fill="#0072ce" stroke="#000" stroke-width="1.0"/>
<circle cx="1791" cy="284.9" r="5.4" fill="#0072ce" stroke="#000" stroke-width="1.0"/>
<circle cx="1770.8" cy="303.4" r="5.4" fill="#0072ce" stroke="#000" stroke-width="1.0"/>
<circle cx="1775.3" cy="306.4" r="5.4" fill="#0072ce" stroke="#000" stroke-width="1.0"/>
<circle cx="1794.8" cy="304.3" r="5.4" fill="#0072ce" stroke="#000" stroke-width="1.0"/>
<circle cx="1791.2" cy="308.8" r="5.4" fill="#0072ce" stroke="#000" stroke-width="1.0"/>
<circle cx="1782.9" cy="316" r="5.4" fill="#0072ce" stroke="#000" stroke-width="1.0"/>
<circle cx="1778" cy="319.6" r="5.4" fill="#0072ce" stroke="#000" stroke-width="1.0"/>
<circle cx="1787.9" cy="316.9" r="5.4" fill="#0072ce" stroke="#000" stroke-width="1.0"/>
<circle cx="1769.8" cy="321.5" r="5.4" fill="#0072ce" stroke="#000" stroke-width="1.0"/>
<circle cx="1796.1" cy="321.5" r="5.4" fill="#0072ce" stroke="#000" stroke-width="1.0"/>
<circle cx="1773.5" cy="325.6" r="5.4" fill="#0072ce" stroke="#000" stroke-width="1.0"/>
<circle cx="1789.7" cy="325.6" r="5.4" fill="#0072ce" stroke="#000" stroke-width="1.0"/>
<circle cx="1778.9" cy="331.4" r="5.4" fill="#0072ce" stroke="#000" stroke-width="1.0"/>
<circle cx="1786.1" cy="331.4" r="5.4" fill="#0072ce" stroke="#000" stroke-width="1.0"/>
<circle cx="1784" cy="335" r="5.4" fill="#0072ce" stroke="#000" stroke-width="1.0"/>
<circle cx="1781.2" cy="337.7" r="5.4" fill="#0072ce" stroke="#000" stroke-width="1.0"/>
<circle cx="1835.8" cy="248.5" r="5.4" fill="#ff0000" stroke="#000" stroke-width="1.0"/>
<circle cx="1825.9" cy="264.5" r="5.4" fill="#ff0000" stroke="#000" stroke-width="1.0"/>
<circle cx="1845.8" cy="271.3" r="5.4" fill="#ff0000" stroke="#000" stroke-width="1.0"/>
<circle cx="1831.4" cy="274.4" r="5.4" fill="#ff0000" stroke="#000" stroke-width="1.0"/>
<circle cx="1836.8" cy="276.2" r="5.4" fill="#ff0000" stroke="#000" stroke-width="1.0"/>
<circle cx="1841.3" cy="274.4" r="5.4" fill="#ff0000" stroke="#000" stroke-width="1.0"/>
<circle cx="1845.8" cy="287.1" r="5.4" fill="#ff0000" stroke="#000" stroke-width="1.0"/>
<circle cx="1825.9" cy="291.2" r="5.4" fill="#ff0000" stroke="#000" stroke-width="1.0"/>
<circle cx="1840.8" cy="294" r="5.4" fill="#ff0000" stroke="#000" stroke-width="1.0"/>
<circle cx="1836.8" cy="302.8" r="5.4" fill="#ff0000" stroke="#000" stroke-width="1.0"/>
<circle cx="1830.5" cy="302.5" r="5.4" fill="#ff0000" stroke="#000" stroke-width="1.0"/>
<circle cx="1827.7" cy="311.5" r="5.4" fill="#ff0000" stroke="#000" stroke-width="1.0"/>
<circle cx="1844" cy="311.5" r="5.4" fill="#ff0000" stroke="#000" stroke-width="1.0"/>
<circle cx="1826.8" cy="320.2" r="5.4" fill="#ff0000" stroke="#000" stroke-width="1.0"/>
<circle cx="1838.6" cy="322.7" r="5.4" fill="#ff0000" stroke="#000" stroke-width="1.0"/>
<circle cx="1827.7" cy="331" r="5.4" fill="#ff0000" stroke="#000" stroke-width="1.0"/>
<circle cx="1844" cy="334.1" r="5.4" fill="#ff0000" stroke="#000" stroke-width="1.0"/>
<circle cx="1831.4" cy="339.2" r="5.4" fill="#ff0000" stroke="#000" stroke-width="1.0"/>
<circle cx="1840.4" cy="345.9" r="5.4" fill="#ff0000" stroke="#000" stroke-width="1.0"/>
<circle cx="1844" cy="356.7" r="5.4" fill="#ff0000" stroke="#000" stroke-width="1.0"/>
<circle cx="1827.7" cy="359.1" r="5.4" fill="#ff0000" stroke="#000" stroke-width="1.0"/>
<circle cx="1839.5" cy="359.1" r="5.4" fill="#ff0000" stroke="#000" stroke-width="1.0"/>
<circle cx="1831.4" cy="364.3" r="5.4" fill="#ff0000" stroke="#000" stroke-width="1.0"/>
<circle cx="1903" cy="357" r="5.4" fill="#6dcff6" stroke="#000" stroke-width="1.0"/>
<circle cx="1910" cy="360" r="5.4" fill="#6dcff6" stroke="#000" stroke-width="1.0"/>
<circle cx="1906" cy="372" r="5.4" fill="#6dcff6" stroke="#000" stroke-width="1.0"/>
<circle cx="1903" cy="384" r="5.4" fill="#6dcff6" stroke="#000" stroke-width="1.0"/>
<circle cx="1911" cy="390" r="5.4" fill="#6dcff6" stroke="#000" stroke-width="1.0"/>
<circle cx="1906" cy="397" r="5.4" fill="#6dcff6" stroke="#000" stroke-width="1.0"/>
<circle cx="1911" cy="372" r="5.4" fill="#6dcff6" stroke="#000" stroke-width="1.0"/>
<circle cx="1906.4" cy="347.7" r="5.4" fill="#6dcff6" stroke="#000" stroke-width="1.0"/>
<circle cx="1898.6" cy="350.9" r="5.4" fill="#6dcff6" stroke="#000" stroke-width="1.0"/>
<circle cx="1914.6" cy="350.9" r="5.4" fill="#6dcff6" stroke="#000" stroke-width="1.0"/>
<circle cx="1897.7" cy="363.6" r="5.4" fill="#6dcff6" stroke="#000" stroke-width="1.0"/>
<circle cx="1908.2" cy="366.7" r="5.4" fill="#6dcff6" stroke="#000" stroke-width="1.0"/>
<circle cx="1915.1" cy="363.6" r="5.4" fill="#6dcff6" stroke="#000" stroke-width="1.0"/>
<circle cx="1895.6" cy="370.3" r="5.4" fill="#6dcff6" stroke="#000" stroke-width="1.0"/>
<circle cx="1917.3" cy="372.1" r="5.4" fill="#6dcff6" stroke="#000" stroke-width="1.0"/>
<circle cx="1910" cy="379.3" r="5.4" fill="#6dcff6" stroke="#000" stroke-width="1.0"/>
<circle cx="1901" cy="377.5" r="5.4" fill="#6dcff6" stroke="#000" stroke-width="1.0"/>
<circle cx="1906.4" cy="386" r="5.4" fill="#6dcff6" stroke="#000" stroke-width="1.0"/>
<circle cx="1898.3" cy="390.2" r="5.4" fill="#6dcff6" stroke="#000" stroke-width="1.0"/>
<circle cx="1895.6" cy="396.2" r="5.4" fill="#6dcff6" stroke="#000" stroke-width="1.0"/>
<circle cx="1914.6" cy="396.2" r="5.4" fill="#6dcff6" stroke="#000" stroke-width="1.0"/>
<circle cx="1918.2" cy="400.1" r="5.4" fill="#6dcff6" stroke="#000" stroke-width="1.0"/>
<circle cx="1900.1" cy="401" r="5.4" fill="#6dcff6" stroke="#000" stroke-width="1.0"/>
<circle cx="1904.6" cy="403.4" r="5.4" fill="#6dcff6" stroke="#000" stroke-width="1.0"/>
<circle cx="1909.1" cy="403.8" r="5.4" fill="#6dcff6" stroke="#000" stroke-width="1.0"/>
<circle cx="1914.6" cy="414.3" r="5.4" fill="#6dcff6" stroke="#000" stroke-width="1.0"/>
<circle cx="1898.6" cy="421.9" r="5.4" fill="#6dcff6" stroke="#000" stroke-width="1.0"/>
<circle cx="1956" cy="330" r="5.4" fill="#0072ce" stroke="#000" stroke-width="1.0"/>
<circle cx="1961" cy="336" r="5.4" fill="#0072ce" stroke="#000" stroke-width="1.0"/>
<circle cx="1953" cy="340" r="5.4" fill="#0072ce" stroke="#000" stroke-width="1.0"/>
<circle cx="1964" cy="343" r="5.4" fill="#0072ce" stroke="#000" stroke-width="1.0"/>
<circle cx="1957" cy="350" r="5.4" fill="#0072ce" stroke="#000" stroke-width="1.0"/>
<circle cx="1968" cy="352" r="5.4" fill="#0072ce" stroke="#000" stroke-width="1.0"/>
<circle cx="1954" cy="358" r="5.4" fill="#0072ce" stroke="#000" stroke-width="1.0"/>
<circle cx="1961" cy="354" r="5.4" fill="#0072ce" stroke="#000" stroke-width="1.0"/>
<circle cx="1946" cy="342" r="5.4" fill="#0072ce" stroke="#000" stroke-width="1.0"/>
<circle cx="1972" cy="340" r="5.4" fill="#0072ce" stroke="#000" stroke-width="1.0"/>
<circle cx="1960" cy="326" r="5.4" fill="#0072ce" stroke="#000" stroke-width="1.0"/>
<circle cx="1955" cy="334" r="5.4" fill="#0072ce" stroke="#000" stroke-width="1.0"/>
<circle cx="1969" cy="345" r="5.4" fill="#0072ce" stroke="#000" stroke-width="1.0"/>
<circle cx="1947" cy="352" r="5.4" fill="#0072ce" stroke="#000" stroke-width="1.0"/>
<circle cx="1951.6" cy="327.8" r="5.4" fill="#0072ce" stroke="#000" stroke-width="1.0"/>
<circle cx="1967.9" cy="326" r="5.4" fill="#0072ce" stroke="#000" stroke-width="1.0"/>
<circle cx="1964.3" cy="328.1" r="5.4" fill="#0072ce" stroke="#000" stroke-width="1.0"/>
<circle cx="1949.8" cy="334.1" r="5.4" fill="#0072ce" stroke="#000" stroke-width="1.0"/>
<circle cx="1967" cy="336.8" r="5.4" fill="#0072ce" stroke="#000" stroke-width="1.0"/>
<circle cx="1958" cy="344.1" r="5.4" fill="#0072ce" stroke="#000" stroke-width="1.0"/>
<circle cx="1948" cy="349.5" r="5.4" fill="#0072ce" stroke="#000" stroke-width="1.0"/>
<circle cx="1971.5" cy="349.1" r="5.4" fill="#0072ce" stroke="#000" stroke-width="1.0"/>
<circle cx="1950.7" cy="355.8" r="5.4" fill="#0072ce" stroke="#000" stroke-width="1.0"/>
<circle cx="1965.2" cy="356.7" r="5.4" fill="#0072ce" stroke="#000" stroke-width="1.0"/>
<circle cx="1958" cy="363.1" r="5.4" fill="#0072ce" stroke="#000" stroke-width="1.0"/>
<circle cx="1962.5" cy="361.3" r="5.4" fill="#0072ce" stroke="#000" stroke-width="1.0"/>
<circle cx="2003.2" cy="312" r="5.4" fill="#ff0000" stroke="#000" stroke-width="1.0"/>
<circle cx="2022.2" cy="312.4" r="5.4" fill="#ff0000" stroke="#000" stroke-width="1.0"/>
<circle cx="2006.8" cy="315.5" r="5.4" fill="#ff0000" stroke="#000" stroke-width="1.0"/>
<circle cx="2018.6" cy="316" r="5.4" fill="#ff0000" stroke="#000" stroke-width="1.0"/>
<circle cx="2016.8" cy="322.4" r="5.4" fill="#ff0000" stroke="#000" stroke-width="1.0"/>
<circle cx="2010.8" cy="325.1" r="5.4" fill="#ff0000" stroke="#000" stroke-width="1.0"/>
<circle cx="2022.2" cy="344.4" r="5.4" fill="#ff0000" stroke="#000" stroke-width="1.0"/>
<circle cx="2003.2" cy="350" r="5.4" fill="#ff0000" stroke="#000" stroke-width="1.0"/>
<circle cx="2006.8" cy="354.9" r="5.4" fill="#ff0000" stroke="#000" stroke-width="1.0"/>
<circle cx="2019.1" cy="354.6" r="5.4" fill="#ff0000" stroke="#000" stroke-width="1.0"/>
<circle cx="2011.3" cy="359.4" r="5.4" fill="#ff0000" stroke="#000" stroke-width="1.0"/>
<circle cx="2015.3" cy="357.6" r="5.4" fill="#ff0000" stroke="#000" stroke-width="1.0"/>
<circle cx="2002.8" cy="374.8" r="5.4" fill="#ff0000" stroke="#000" stroke-width="1.0"/>
<circle cx="2022.7" cy="377.5" r="5.4" fill="#ff0000" stroke="#000" stroke-width="1.0"/>
<circle cx="2012.6" cy="380.6" r="5.4" fill="#ff0000" stroke="#000" stroke-width="1.0"/>
<circle cx="2004.1" cy="387.5" r="5.4" fill="#ff0000" stroke="#000" stroke-width="1.0"/>
<circle cx="2020.9" cy="390.2" r="5.4" fill="#ff0000" stroke="#000" stroke-width="1.0"/>
<circle cx="2008.3" cy="396.9" r="5.4" fill="#ff0000" stroke="#000" stroke-width="1.0"/>
<circle cx="2017.3" cy="402.3" r="5.4" fill="#ff0000" stroke="#000" stroke-width="1.0"/>
<circle cx="2012.8" cy="419.1" r="5.4" fill="#ff0000" stroke="#000" stroke-width="1.0"/>
<line x1="1519.1" y1="424.2" x2="2049" y2="424.2" stroke="#000" stroke-width="3.0" stroke-linecap="round" stroke-dasharray="0 7.86"/>
<circle cx="2032.8" cy="162" r="5.8" fill="#6dcff6" stroke="#000" stroke-width="1.0"/>
<text transform="translate(2048 172.2) scale(0.975 1)" font-size="27.9" text-anchor="start"><tspan>V</tspan><tspan dy="8" font-size="18.8">N</tspan><tspan dy="-8" font-size="27.9">LR</tspan></text>
<circle cx="2032.8" cy="192.9" r="5.8" fill="#0072ce" stroke="#000" stroke-width="1.0"/>
<text transform="translate(2048 204.2) scale(0.975 1)" font-size="27.9" text-anchor="start"><tspan>V</tspan><tspan dy="8" font-size="18.8">N</tspan><tspan dy="-8" font-size="27.9">HR</tspan></text>
<circle cx="2032.8" cy="224.2" r="5.8" fill="#ff0000" stroke="#000" stroke-width="1.0"/>
<text transform="translate(2048 235.4) scale(0.975 1)" font-size="27.9" text-anchor="start"><tspan>V</tspan><tspan dy="8" font-size="18.8">R</tspan></text>
<line x1="147.2" y1="678.98" x2="147.2" y2="949.62" stroke="#000" stroke-width="2.05"/>
<line x1="135.8" y1="948.6" x2="147.2" y2="948.6" stroke="#000" stroke-width="2.05"/>
<line x1="140.9" y1="921.65" x2="147.2" y2="921.65" stroke="#000" stroke-width="2.05"/>
<line x1="140.9" y1="905.88" x2="147.2" y2="905.88" stroke="#000" stroke-width="2.05"/>
<line x1="140.9" y1="894.7" x2="147.2" y2="894.7" stroke="#000" stroke-width="2.05"/>
<line x1="140.9" y1="886.02" x2="147.2" y2="886.02" stroke="#000" stroke-width="2.05"/>
<line x1="140.9" y1="878.93" x2="147.2" y2="878.93" stroke="#000" stroke-width="2.05"/>
<line x1="140.9" y1="872.94" x2="147.2" y2="872.94" stroke="#000" stroke-width="2.05"/>
<line x1="140.9" y1="867.74" x2="147.2" y2="867.74" stroke="#000" stroke-width="2.05"/>
<line x1="140.9" y1="863.16" x2="147.2" y2="863.16" stroke="#000" stroke-width="2.05"/>
<line x1="135.8" y1="859.07" x2="147.2" y2="859.07" stroke="#000" stroke-width="2.05"/>
<line x1="140.9" y1="832.11" x2="147.2" y2="832.11" stroke="#000" stroke-width="2.05"/>
<line x1="140.9" y1="816.35" x2="147.2" y2="816.35" stroke="#000" stroke-width="2.05"/>
<line x1="140.9" y1="805.16" x2="147.2" y2="805.16" stroke="#000" stroke-width="2.05"/>
<line x1="140.9" y1="796.49" x2="147.2" y2="796.49" stroke="#000" stroke-width="2.05"/>
<line x1="140.9" y1="789.4" x2="147.2" y2="789.4" stroke="#000" stroke-width="2.05"/>
<line x1="140.9" y1="783.4" x2="147.2" y2="783.4" stroke="#000" stroke-width="2.05"/>
<line x1="140.9" y1="778.21" x2="147.2" y2="778.21" stroke="#000" stroke-width="2.05"/>
<line x1="140.9" y1="773.63" x2="147.2" y2="773.63" stroke="#000" stroke-width="2.05"/>
<line x1="135.8" y1="769.53" x2="147.2" y2="769.53" stroke="#000" stroke-width="2.05"/>
<line x1="140.9" y1="742.58" x2="147.2" y2="742.58" stroke="#000" stroke-width="2.05"/>
<line x1="140.9" y1="726.82" x2="147.2" y2="726.82" stroke="#000" stroke-width="2.05"/>
<line x1="140.9" y1="715.63" x2="147.2" y2="715.63" stroke="#000" stroke-width="2.05"/>
<line x1="140.9" y1="706.95" x2="147.2" y2="706.95" stroke="#000" stroke-width="2.05"/>
<line x1="140.9" y1="699.86" x2="147.2" y2="699.86" stroke="#000" stroke-width="2.05"/>
<line x1="140.9" y1="693.87" x2="147.2" y2="693.87" stroke="#000" stroke-width="2.05"/>
<line x1="140.9" y1="688.68" x2="147.2" y2="688.68" stroke="#000" stroke-width="2.05"/>
<line x1="140.9" y1="684.1" x2="147.2" y2="684.1" stroke="#000" stroke-width="2.05"/>
<line x1="135.8" y1="680" x2="147.2" y2="680" stroke="#000" stroke-width="2.05"/>
<line x1="135.8" y1="948.6" x2="679" y2="948.6" stroke="#000" stroke-width="2.05"/>
<text transform="translate(86.4 961.3) scale(0.975 1)" font-size="27.9" text-anchor="start"><tspan>10</tspan><tspan dy="-13.2" font-size="18.8">0</tspan></text>
<text transform="translate(86.4 866.27) scale(0.975 1)" font-size="27.9" text-anchor="start"><tspan>10</tspan><tspan dy="-13.2" font-size="18.8">1</tspan></text>
<text transform="translate(86.4 776.73) scale(0.975 1)" font-size="27.9" text-anchor="start"><tspan>10</tspan><tspan dy="-13.2" font-size="18.8">2</tspan></text>
<text transform="translate(86.4 687.2) scale(0.975 1)" font-size="27.9" text-anchor="start"><tspan>10</tspan><tspan dy="-13.2" font-size="18.8">3</tspan></text>
<text transform="translate(86.4 925.2) scale(0.975 1)" font-size="27.9" text-anchor="start"><tspan>NA</tspan></text>
<text transform="translate(24.3 814.3) rotate(-90) scale(0.975 1)" font-size="27.9" text-anchor="middle" textLength="286.15" lengthAdjust="spacingAndGlyphs"><tspan>PSV-neutralizing assay</tspan></text>
<text transform="translate(58.6 814) rotate(-90) scale(0.975 1)" font-size="27.9" text-anchor="middle"><tspan>(ND</tspan><tspan dy="8" font-size="18.8">50</tspan><tspan dy="-8" font-size="27.9">)</tspan></text>
<line x1="176.2" y1="966.2" x2="291.2" y2="966.2" stroke="#000" stroke-width="2.0"/>
<text transform="translate(234.3 998.7) scale(0.975 1)" font-size="27.9" text-anchor="middle"><tspan>RBD</tspan><tspan dy="-13.2" font-size="18.8">WT</tspan></text>
<line x1="349.7" y1="966.2" x2="464.7" y2="966.2" stroke="#000" stroke-width="2.0"/>
<text transform="translate(407 998.7) scale(0.975 1)" font-size="27.9" text-anchor="middle"><tspan>RBD</tspan><tspan dy="-13.2" font-size="18.8">D</tspan></text>
<line x1="529.5" y1="966.2" x2="644.5" y2="966.2" stroke="#000" stroke-width="2.0"/>
<text transform="translate(587.5 998.7) scale(0.975 1)" font-size="27.9" text-anchor="middle"><tspan>RBD</tspan><tspan dy="-13.2" font-size="18.8">O</tspan></text>
<line x1="196.9" y1="744.9" x2="196.9" y2="790" stroke="#a3a3a3" stroke-width="1.9"/>
<line x1="184.4" y1="744.9" x2="209.4" y2="744.9" stroke="#a3a3a3" stroke-width="1.9"/>
<rect x="172.3" y="790" width="49.1" height="131.5" fill="none" stroke="#a3a3a3" stroke-width="1.9"/>
<line x1="172.3" y1="805.1" x2="221.4" y2="805.1" stroke="#a3a3a3" stroke-width="1.9"/>
<line x1="272.6" y1="683.4" x2="272.6" y2="700.6" stroke="#a3a3a3" stroke-width="1.9"/>
<line x1="260.1" y1="683.4" x2="285.1" y2="683.4" stroke="#a3a3a3" stroke-width="1.9"/>
<line x1="272.6" y1="750.6" x2="272.6" y2="921.4" stroke="#a3a3a3" stroke-width="1.9"/>
<line x1="260.1" y1="921.4" x2="285.1" y2="921.4" stroke="#a3a3a3" stroke-width="1.9"/>
<rect x="248" y="700.6" width="49.1" height="50" fill="none" stroke="#a3a3a3" stroke-width="1.9"/>
<line x1="248" y1="738.6" x2="297.1" y2="738.6" stroke="#a3a3a3" stroke-width="1.9"/>
<line x1="372.9" y1="805.7" x2="372.9" y2="921.5" stroke="#a3a3a3" stroke-width="1.9"/>
<line x1="360.4" y1="805.7" x2="385.4" y2="805.7" stroke="#a3a3a3" stroke-width="1.9"/>
<line x1="372.9" y1="805.7" x2="372.9" y2="921.5" stroke="#a3a3a3" stroke-width="1.9"/>
<line x1="360.4" y1="921.5" x2="385.4" y2="921.5" stroke="#a3a3a3" stroke-width="1.9"/>
<line x1="448.9" y1="702.3" x2="448.9" y2="768" stroke="#a3a3a3" stroke-width="1.9"/>
<line x1="436.4" y1="702.3" x2="461.4" y2="702.3" stroke="#a3a3a3" stroke-width="1.9"/>
<line x1="448.9" y1="812.9" x2="448.9" y2="921.5" stroke="#a3a3a3" stroke-width="1.9"/>
<line x1="436.4" y1="921.5" x2="461.4" y2="921.5" stroke="#a3a3a3" stroke-width="1.9"/>
<rect x="424.3" y="768" width="49.4" height="44.9" fill="none" stroke="#a3a3a3" stroke-width="1.9"/>
<line x1="424.3" y1="779.4" x2="473.7" y2="779.4" stroke="#a3a3a3" stroke-width="1.9"/>
<line x1="625.4" y1="752.3" x2="625.4" y2="789.1" stroke="#a3a3a3" stroke-width="1.9"/>
<line x1="612.9" y1="752.3" x2="637.9" y2="752.3" stroke="#a3a3a3" stroke-width="1.9"/>
<rect x="600.9" y="789.1" width="49.4" height="132.4" fill="none" stroke="#a3a3a3" stroke-width="1.9"/>
<line x1="600.9" y1="837.7" x2="650.3" y2="837.7" stroke="#a3a3a3" stroke-width="1.9"/>
<circle cx="196.9" cy="744.9" r="5.4" fill="#6dcff6" stroke="#000" stroke-width="1.0"/>
<circle cx="204.9" cy="753.7" r="5.4" fill="#6dcff6" stroke="#000" stroke-width="1.0"/>
<circle cx="188.6" cy="768" r="5.4" fill="#6dcff6" stroke="#000" stroke-width="1.0"/>
<circle cx="178" cy="787.1" r="5.4" fill="#6dcff6" stroke="#000" stroke-width="1.0"/>
<circle cx="215.7" cy="789.4" r="5.4" fill="#6dcff6" stroke="#000" stroke-width="1.0"/>
<circle cx="190.6" cy="791.4" r="5.4" fill="#6dcff6" stroke="#000" stroke-width="1.0"/>
<circle cx="203.1" cy="792" r="5.4" fill="#6dcff6" stroke="#000" stroke-width="1.0"/>
<circle cx="180" cy="799.4" r="5.4" fill="#6dcff6" stroke="#000" stroke-width="1.0"/>
<circle cx="213.7" cy="801.4" r="5.4" fill="#6dcff6" stroke="#000" stroke-width="1.0"/>
<circle cx="188.6" cy="802.3" r="5.4" fill="#6dcff6" stroke="#000" stroke-width="1.0"/>
<circle cx="205.1" cy="807.7" r="5.4" fill="#6dcff6" stroke="#000" stroke-width="1.0"/>
<circle cx="196.9" cy="809.1" r="5.4" fill="#6dcff6" stroke="#000" stroke-width="1.0"/>
<circle cx="196.9" cy="826.3" r="5.4" fill="#6dcff6" stroke="#000" stroke-width="1.0"/>
<circle cx="179.1" cy="921.5" r="5.4" fill="#6dcff6" stroke="#000" stroke-width="1.0"/>
<circle cx="185.1" cy="921.5" r="5.4" fill="#6dcff6" stroke="#000" stroke-width="1.0"/>
<circle cx="190.9" cy="921.5" r="5.4" fill="#6dcff6" stroke="#000" stroke-width="1.0"/>
<circle cx="214.6" cy="921.5" r="5.4" fill="#6dcff6" stroke="#000" stroke-width="1.0"/>
<circle cx="208.6" cy="921.5" r="5.4" fill="#6dcff6" stroke="#000" stroke-width="1.0"/>
<circle cx="202.9" cy="921.5" r="5.4" fill="#6dcff6" stroke="#000" stroke-width="1.0"/>
<circle cx="196.9" cy="921.5" r="5.4" fill="#6dcff6" stroke="#000" stroke-width="1.0"/>
<circle cx="255.7" cy="683.4" r="5.4" fill="#0072ce" stroke="#000" stroke-width="1.0"/>
<circle cx="289.7" cy="686.6" r="5.4" fill="#0072ce" stroke="#000" stroke-width="1.0"/>
<circle cx="263.7" cy="693.1" r="5.4" fill="#0072ce" stroke="#000" stroke-width="1.0"/>
<circle cx="281.4" cy="697.1" r="5.4" fill="#0072ce" stroke="#000" stroke-width="1.0"/>
<circle cx="272.6" cy="700" r="5.4" fill="#0072ce" stroke="#000" stroke-width="1.0"/>
<circle cx="253.4" cy="709.1" r="5.4" fill="#0072ce" stroke="#000" stroke-width="1.0"/>
<circle cx="291.4" cy="710.3" r="5.4" fill="#0072ce" stroke="#000" stroke-width="1.0"/>
<circle cx="266.3" cy="712.9" r="5.4" fill="#0072ce" stroke="#000" stroke-width="1.0"/>
<circle cx="278.6" cy="722.3" r="5.4" fill="#0072ce" stroke="#000" stroke-width="1.0"/>
<circle cx="255.1" cy="739.4" r="5.4" fill="#0072ce" stroke="#000" stroke-width="1.0"/>
<circle cx="290" cy="739.4" r="5.4" fill="#0072ce" stroke="#000" stroke-width="1.0"/>
<circle cx="264.3" cy="742.9" r="5.4" fill="#0072ce" stroke="#000" stroke-width="1.0"/>
<circle cx="280.9" cy="744.9" r="5.4" fill="#0072ce" stroke="#000" stroke-width="1.0"/>
<circle cx="272.6" cy="749.4" r="5.4" fill="#0072ce" stroke="#000" stroke-width="1.0"/>
<circle cx="253.4" cy="751.4" r="5.4" fill="#0072ce" stroke="#000" stroke-width="1.0"/>
<circle cx="291.4" cy="761.4" r="5.4" fill="#0072ce" stroke="#000" stroke-width="1.0"/>
<circle cx="266.3" cy="763.7" r="5.4" fill="#0072ce" stroke="#000" stroke-width="1.0"/>
<circle cx="278.6" cy="767.7" r="5.4" fill="#0072ce" stroke="#000" stroke-width="1.0"/>
<circle cx="272.6" cy="784.9" r="5.4" fill="#0072ce" stroke="#000" stroke-width="1.0"/>
<circle cx="272.6" cy="921.2" r="5.4" fill="#0072ce" stroke="#000" stroke-width="1.0"/>
<circle cx="364.9" cy="805.7" r="5.4" fill="#6dcff6" stroke="#000" stroke-width="1.0"/>
<circle cx="381.1" cy="814.6" r="5.4" fill="#6dcff6" stroke="#000" stroke-width="1.0"/>
<circle cx="364" cy="921.5" r="5.4" fill="#6dcff6" stroke="#000" stroke-width="1.0"/>
<circle cx="366" cy="921.5" r="5.4" fill="#6dcff6" stroke="#000" stroke-width="1.0"/>
<circle cx="368" cy="921.5" r="5.4" fill="#6dcff6" stroke="#000" stroke-width="1.0"/>
<circle cx="370" cy="921.5" r="5.4" fill="#6dcff6" stroke="#000" stroke-width="1.0"/>
<circle cx="380" cy="921.5" r="5.4" fill="#6dcff6" stroke="#000" stroke-width="1.0"/>
<circle cx="378" cy="921.5" r="5.4" fill="#6dcff6" stroke="#000" stroke-width="1.0"/>
<circle cx="376" cy="921.5" r="5.4" fill="#6dcff6" stroke="#000" stroke-width="1.0"/>
<circle cx="374" cy="921.5" r="5.4" fill="#6dcff6" stroke="#000" stroke-width="1.0"/>
<circle cx="372" cy="921.5" r="5.4" fill="#6dcff6" stroke="#000" stroke-width="1.0"/>
<circle cx="355.2" cy="921.5" r="5.4" fill="#6dcff6" stroke="#000" stroke-width="1.0"/>
<circle cx="361.9" cy="921.5" r="5.4" fill="#6dcff6" stroke="#000" stroke-width="1.0"/>
<circle cx="390.6" cy="921.5" r="5.4" fill="#6dcff6" stroke="#000" stroke-width="1.0"/>
<circle cx="383.1" cy="921.5" r="5.4" fill="#6dcff6" stroke="#000" stroke-width="1.0"/>
<circle cx="448.9" cy="702.3" r="5.4" fill="#0072ce" stroke="#000" stroke-width="1.0"/>
<circle cx="457.1" cy="748" r="5.4" fill="#0072ce" stroke="#000" stroke-width="1.0"/>
<circle cx="440.9" cy="754.3" r="5.4" fill="#0072ce" stroke="#000" stroke-width="1.0"/>
<circle cx="466.6" cy="763.7" r="5.4" fill="#0072ce" stroke="#000" stroke-width="1.0"/>
<circle cx="430.9" cy="768.6" r="5.4" fill="#0072ce" stroke="#000" stroke-width="1.0"/>
<circle cx="460.3" cy="770.9" r="5.4" fill="#0072ce" stroke="#000" stroke-width="1.0"/>
<circle cx="437.1" cy="774.3" r="5.4" fill="#0072ce" stroke="#000" stroke-width="1.0"/>
<circle cx="448.9" cy="778" r="5.4" fill="#0072ce" stroke="#000" stroke-width="1.0"/>
<circle cx="442.9" cy="779.4" r="5.4" fill="#0072ce" stroke="#000" stroke-width="1.0"/>
<circle cx="457.1" cy="782.9" r="5.4" fill="#0072ce" stroke="#000" stroke-width="1.0"/>
<circle cx="440.9" cy="796.3" r="5.4" fill="#0072ce" stroke="#000" stroke-width="1.0"/>
<circle cx="465.1" cy="803.7" r="5.4" fill="#0072ce" stroke="#000" stroke-width="1.0"/>
<circle cx="432.9" cy="813.7" r="5.4" fill="#0072ce" stroke="#000" stroke-width="1.0"/>
<circle cx="448.9" cy="813.7" r="5.4" fill="#0072ce" stroke="#000" stroke-width="1.0"/>
<circle cx="432.9" cy="921.5" r="5.4" fill="#0072ce" stroke="#000" stroke-width="1.0"/>
<circle cx="448.9" cy="921.5" r="5.4" fill="#0072ce" stroke="#000" stroke-width="1.0"/>
<circle cx="465.1" cy="921.5" r="5.4" fill="#0072ce" stroke="#000" stroke-width="1.0"/>
<circle cx="540" cy="921.5" r="5.4" fill="#6dcff6" stroke="#000" stroke-width="1.0"/>
<circle cx="542" cy="921.5" r="5.4" fill="#6dcff6" stroke="#000" stroke-width="1.0"/>
<circle cx="544" cy="921.5" r="5.4" fill="#6dcff6" stroke="#000" stroke-width="1.0"/>
<circle cx="546" cy="921.5" r="5.4" fill="#6dcff6" stroke="#000" stroke-width="1.0"/>
<circle cx="557" cy="921.5" r="5.4" fill="#6dcff6" stroke="#000" stroke-width="1.0"/>
<circle cx="555" cy="921.5" r="5.4" fill="#6dcff6" stroke="#000" stroke-width="1.0"/>
<circle cx="553" cy="921.5" r="5.4" fill="#6dcff6" stroke="#000" stroke-width="1.0"/>
<circle cx="551" cy="921.5" r="5.4" fill="#6dcff6" stroke="#000" stroke-width="1.0"/>
<circle cx="549" cy="921.5" r="5.4" fill="#6dcff6" stroke="#000" stroke-width="1.0"/>
<circle cx="547.5" cy="921.5" r="5.4" fill="#6dcff6" stroke="#000" stroke-width="1.0"/>
<circle cx="532" cy="921.5" r="5.4" fill="#6dcff6" stroke="#000" stroke-width="1.0"/>
<circle cx="537.9" cy="921.5" r="5.4" fill="#6dcff6" stroke="#000" stroke-width="1.0"/>
<circle cx="567.3" cy="921.5" r="5.4" fill="#6dcff6" stroke="#000" stroke-width="1.0"/>
<circle cx="559.8" cy="921.5" r="5.4" fill="#6dcff6" stroke="#000" stroke-width="1.0"/>
<circle cx="625.4" cy="752.3" r="5.4" fill="#0072ce" stroke="#000" stroke-width="1.0"/>
<circle cx="606.6" cy="785.7" r="5.4" fill="#0072ce" stroke="#000" stroke-width="1.0"/>
<circle cx="618.9" cy="790.3" r="5.4" fill="#0072ce" stroke="#000" stroke-width="1.0"/>
<circle cx="631.4" cy="787.7" r="5.4" fill="#0072ce" stroke="#000" stroke-width="1.0"/>
<circle cx="644.3" cy="785.7" r="5.4" fill="#0072ce" stroke="#000" stroke-width="1.0"/>
<circle cx="608.9" cy="810" r="5.4" fill="#0072ce" stroke="#000" stroke-width="1.0"/>
<circle cx="625.4" cy="813.7" r="5.4" fill="#0072ce" stroke="#000" stroke-width="1.0"/>
<circle cx="641.7" cy="807.1" r="5.4" fill="#0072ce" stroke="#000" stroke-width="1.0"/>
<circle cx="609.4" cy="921.5" r="5.4" fill="#0072ce" stroke="#000" stroke-width="1.0"/>
<circle cx="616.3" cy="921.5" r="5.4" fill="#0072ce" stroke="#000" stroke-width="1.0"/>
<circle cx="622.9" cy="921.5" r="5.4" fill="#0072ce" stroke="#000" stroke-width="1.0"/>
<circle cx="629.4" cy="921.5" r="5.4" fill="#0072ce" stroke="#000" stroke-width="1.0"/>
<circle cx="634.9" cy="921.5" r="5.4" fill="#0072ce" stroke="#000" stroke-width="1.0"/>
<circle cx="641.7" cy="921.5" r="5.4" fill="#0072ce" stroke="#000" stroke-width="1.0"/>
<line x1="146.3" y1="921.5" x2="676" y2="921.5" stroke="#000" stroke-width="3.0" stroke-linecap="round" stroke-dasharray="0 7.86"/>
<circle cx="662" cy="679.4" r="5.8" fill="#6dcff6" stroke="#000" stroke-width="1.0"/>
<text transform="translate(677 689.4) scale(0.975 1)" font-size="27.9" text-anchor="start"><tspan>V</tspan><tspan dy="8" font-size="18.8">N</tspan><tspan dy="-8" font-size="27.9">LR</tspan></text>
<circle cx="662" cy="710.3" r="5.8" fill="#0072ce" stroke="#000" stroke-width="1.0"/>
<text transform="translate(677 720.6) scale(0.975 1)" font-size="27.9" text-anchor="start"><tspan>V</tspan><tspan dy="8" font-size="18.8">N</tspan><tspan dy="-8" font-size="27.9">HR</tspan></text>
<line x1="893.8" y1="614.98" x2="893.8" y2="924.32" stroke="#000" stroke-width="2.05"/>
<line x1="885.2" y1="923.3" x2="893.8" y2="923.3" stroke="#000" stroke-width="2.05"/>
<line x1="888.8" y1="892.46" x2="893.8" y2="892.46" stroke="#000" stroke-width="2.05"/>
<line x1="888.8" y1="874.43" x2="893.8" y2="874.43" stroke="#000" stroke-width="2.05"/>
<line x1="888.8" y1="861.63" x2="893.8" y2="861.63" stroke="#000" stroke-width="2.05"/>
<line x1="888.8" y1="851.7" x2="893.8" y2="851.7" stroke="#000" stroke-width="2.05"/>
<line x1="888.8" y1="843.59" x2="893.8" y2="843.59" stroke="#000" stroke-width="2.05"/>
<line x1="888.8" y1="836.73" x2="893.8" y2="836.73" stroke="#000" stroke-width="2.05"/>
<line x1="888.8" y1="830.79" x2="893.8" y2="830.79" stroke="#000" stroke-width="2.05"/>
<line x1="888.8" y1="825.55" x2="893.8" y2="825.55" stroke="#000" stroke-width="2.05"/>
<line x1="885.2" y1="820.87" x2="893.8" y2="820.87" stroke="#000" stroke-width="2.05"/>
<line x1="888.8" y1="790.03" x2="893.8" y2="790.03" stroke="#000" stroke-width="2.05"/>
<line x1="888.8" y1="771.99" x2="893.8" y2="771.99" stroke="#000" stroke-width="2.05"/>
<line x1="888.8" y1="759.2" x2="893.8" y2="759.2" stroke="#000" stroke-width="2.05"/>
<line x1="888.8" y1="749.27" x2="893.8" y2="749.27" stroke="#000" stroke-width="2.05"/>
<line x1="888.8" y1="741.16" x2="893.8" y2="741.16" stroke="#000" stroke-width="2.05"/>
<line x1="888.8" y1="734.3" x2="893.8" y2="734.3" stroke="#000" stroke-width="2.05"/>
<line x1="888.8" y1="728.36" x2="893.8" y2="728.36" stroke="#000" stroke-width="2.05"/>
<line x1="888.8" y1="723.12" x2="893.8" y2="723.12" stroke="#000" stroke-width="2.05"/>
<line x1="885.2" y1="718.43" x2="893.8" y2="718.43" stroke="#000" stroke-width="2.05"/>
<line x1="888.8" y1="687.6" x2="893.8" y2="687.6" stroke="#000" stroke-width="2.05"/>
<line x1="888.8" y1="669.56" x2="893.8" y2="669.56" stroke="#000" stroke-width="2.05"/>
<line x1="888.8" y1="656.76" x2="893.8" y2="656.76" stroke="#000" stroke-width="2.05"/>
<line x1="888.8" y1="646.84" x2="893.8" y2="646.84" stroke="#000" stroke-width="2.05"/>
<line x1="888.8" y1="638.72" x2="893.8" y2="638.72" stroke="#000" stroke-width="2.05"/>
<line x1="888.8" y1="631.87" x2="893.8" y2="631.87" stroke="#000" stroke-width="2.05"/>
<line x1="888.8" y1="625.93" x2="893.8" y2="625.93" stroke="#000" stroke-width="2.05"/>
<line x1="888.8" y1="620.69" x2="893.8" y2="620.69" stroke="#000" stroke-width="2.05"/>
<line x1="885.2" y1="616" x2="893.8" y2="616" stroke="#000" stroke-width="2.05"/>
<line x1="885.2" y1="923.3" x2="1304.5" y2="923.3" stroke="#000" stroke-width="2.05"/>
<line x1="893.8" y1="923.3" x2="893.8" y2="931.9" stroke="#000" stroke-width="2.05"/>
<line x1="934.91" y1="923.3" x2="934.91" y2="928.3" stroke="#000" stroke-width="2.05"/>
<line x1="958.96" y1="923.3" x2="958.96" y2="928.3" stroke="#000" stroke-width="2.05"/>
<line x1="976.02" y1="923.3" x2="976.02" y2="928.3" stroke="#000" stroke-width="2.05"/>
<line x1="989.26" y1="923.3" x2="989.26" y2="928.3" stroke="#000" stroke-width="2.05"/>
<line x1="1000.07" y1="923.3" x2="1000.07" y2="928.3" stroke="#000" stroke-width="2.05"/>
<line x1="1009.21" y1="923.3" x2="1009.21" y2="928.3" stroke="#000" stroke-width="2.05"/>
<line x1="1017.13" y1="923.3" x2="1017.13" y2="928.3" stroke="#000" stroke-width="2.05"/>
<line x1="1024.12" y1="923.3" x2="1024.12" y2="928.3" stroke="#000" stroke-width="2.05"/>
<text transform="translate(894.2 969.8) scale(0.975 1)" font-size="27.9" text-anchor="middle"><tspan>10</tspan><tspan dy="-13.2" font-size="18.8">0</tspan></text>
<line x1="1030.37" y1="923.3" x2="1030.37" y2="931.9" stroke="#000" stroke-width="2.05"/>
<line x1="1071.48" y1="923.3" x2="1071.48" y2="928.3" stroke="#000" stroke-width="2.05"/>
<line x1="1095.53" y1="923.3" x2="1095.53" y2="928.3" stroke="#000" stroke-width="2.05"/>
<line x1="1112.59" y1="923.3" x2="1112.59" y2="928.3" stroke="#000" stroke-width="2.05"/>
<line x1="1125.82" y1="923.3" x2="1125.82" y2="928.3" stroke="#000" stroke-width="2.05"/>
<line x1="1136.64" y1="923.3" x2="1136.64" y2="928.3" stroke="#000" stroke-width="2.05"/>
<line x1="1145.78" y1="923.3" x2="1145.78" y2="928.3" stroke="#000" stroke-width="2.05"/>
<line x1="1153.7" y1="923.3" x2="1153.7" y2="928.3" stroke="#000" stroke-width="2.05"/>
<line x1="1160.68" y1="923.3" x2="1160.68" y2="928.3" stroke="#000" stroke-width="2.05"/>
<text transform="translate(1030.77 969.8) scale(0.975 1)" font-size="27.9" text-anchor="middle"><tspan>10</tspan><tspan dy="-13.2" font-size="18.8">1</tspan></text>
<line x1="1166.93" y1="923.3" x2="1166.93" y2="931.9" stroke="#000" stroke-width="2.05"/>
<line x1="1208.04" y1="923.3" x2="1208.04" y2="928.3" stroke="#000" stroke-width="2.05"/>
<line x1="1232.09" y1="923.3" x2="1232.09" y2="928.3" stroke="#000" stroke-width="2.05"/>
<line x1="1249.15" y1="923.3" x2="1249.15" y2="928.3" stroke="#000" stroke-width="2.05"/>
<line x1="1262.39" y1="923.3" x2="1262.39" y2="928.3" stroke="#000" stroke-width="2.05"/>
<line x1="1273.2" y1="923.3" x2="1273.2" y2="928.3" stroke="#000" stroke-width="2.05"/>
<line x1="1282.35" y1="923.3" x2="1282.35" y2="928.3" stroke="#000" stroke-width="2.05"/>
<line x1="1290.27" y1="923.3" x2="1290.27" y2="928.3" stroke="#000" stroke-width="2.05"/>
<line x1="1297.25" y1="923.3" x2="1297.25" y2="928.3" stroke="#000" stroke-width="2.05"/>
<text transform="translate(1167.33 969.8) scale(0.975 1)" font-size="27.9" text-anchor="middle"><tspan>10</tspan><tspan dy="-13.2" font-size="18.8">2</tspan></text>
<line x1="1303.5" y1="923.3" x2="1303.5" y2="931.9" stroke="#000" stroke-width="2.05"/>
<text transform="translate(1303.9 969.8) scale(0.975 1)" font-size="27.9" text-anchor="middle"><tspan>10</tspan><tspan dy="-13.2" font-size="18.8">3</tspan></text>
<text transform="translate(833.4 931.3) scale(0.975 1)" font-size="27.9" text-anchor="start"><tspan>10</tspan><tspan dy="-13.2" font-size="18.8">1</tspan></text>
<text transform="translate(833.4 828.87) scale(0.975 1)" font-size="27.9" text-anchor="start"><tspan>10</tspan><tspan dy="-13.2" font-size="18.8">2</tspan></text>
<text transform="translate(833.4 726.43) scale(0.975 1)" font-size="27.9" text-anchor="start"><tspan>10</tspan><tspan dy="-13.2" font-size="18.8">3</tspan></text>
<text transform="translate(833.4 624) scale(0.975 1)" font-size="27.9" text-anchor="start"><tspan>10</tspan><tspan dy="-13.2" font-size="18.8">4</tspan></text>
<text transform="translate(1098.2 587.7) scale(0.975 1)" font-size="27.9" text-anchor="middle"><tspan>V</tspan><tspan dy="8" font-size="18.8">N</tspan><tspan dy="-8" font-size="27.9">LR</tspan></text>
<text transform="translate(806 769.2) rotate(-90) scale(0.975 1)" font-size="27.9" text-anchor="middle"><tspan>RBD IgG (ETs)</tspan></text>
<text transform="translate(1098.5 1007.8) scale(0.975 1)" font-size="27.9" text-anchor="middle" textLength="287.69" lengthAdjust="spacingAndGlyphs"><tspan>PSV-neutralizing assay</tspan></text>
<text transform="translate(1098.5 1039.6) scale(0.975 1)" font-size="27.9" text-anchor="middle"><tspan>(ND</tspan><tspan dy="8" font-size="18.8">50</tspan><tspan dy="-8" font-size="27.9">)</tspan></text>
<line x1="1508.8" y1="615.58" x2="1508.8" y2="926.62" stroke="#000" stroke-width="2.05"/>
<line x1="1500.2" y1="925.6" x2="1508.8" y2="925.6" stroke="#000" stroke-width="2.05"/>
<line x1="1503.8" y1="894.59" x2="1508.8" y2="894.59" stroke="#000" stroke-width="2.05"/>
<line x1="1503.8" y1="876.46" x2="1508.8" y2="876.46" stroke="#000" stroke-width="2.05"/>
<line x1="1503.8" y1="863.59" x2="1508.8" y2="863.59" stroke="#000" stroke-width="2.05"/>
<line x1="1503.8" y1="853.61" x2="1508.8" y2="853.61" stroke="#000" stroke-width="2.05"/>
<line x1="1503.8" y1="845.45" x2="1508.8" y2="845.45" stroke="#000" stroke-width="2.05"/>
<line x1="1503.8" y1="838.55" x2="1508.8" y2="838.55" stroke="#000" stroke-width="2.05"/>
<line x1="1503.8" y1="832.58" x2="1508.8" y2="832.58" stroke="#000" stroke-width="2.05"/>
<line x1="1503.8" y1="827.31" x2="1508.8" y2="827.31" stroke="#000" stroke-width="2.05"/>
<line x1="1500.2" y1="822.6" x2="1508.8" y2="822.6" stroke="#000" stroke-width="2.05"/>
<line x1="1503.8" y1="791.59" x2="1508.8" y2="791.59" stroke="#000" stroke-width="2.05"/>
<line x1="1503.8" y1="773.46" x2="1508.8" y2="773.46" stroke="#000" stroke-width="2.05"/>
<line x1="1503.8" y1="760.59" x2="1508.8" y2="760.59" stroke="#000" stroke-width="2.05"/>
<line x1="1503.8" y1="750.61" x2="1508.8" y2="750.61" stroke="#000" stroke-width="2.05"/>
<line x1="1503.8" y1="742.45" x2="1508.8" y2="742.45" stroke="#000" stroke-width="2.05"/>
<line x1="1503.8" y1="735.55" x2="1508.8" y2="735.55" stroke="#000" stroke-width="2.05"/>
<line x1="1503.8" y1="729.58" x2="1508.8" y2="729.58" stroke="#000" stroke-width="2.05"/>
<line x1="1503.8" y1="724.31" x2="1508.8" y2="724.31" stroke="#000" stroke-width="2.05"/>
<line x1="1500.2" y1="719.6" x2="1508.8" y2="719.6" stroke="#000" stroke-width="2.05"/>
<line x1="1503.8" y1="688.59" x2="1508.8" y2="688.59" stroke="#000" stroke-width="2.05"/>
<line x1="1503.8" y1="670.46" x2="1508.8" y2="670.46" stroke="#000" stroke-width="2.05"/>
<line x1="1503.8" y1="657.59" x2="1508.8" y2="657.59" stroke="#000" stroke-width="2.05"/>
<line x1="1503.8" y1="647.61" x2="1508.8" y2="647.61" stroke="#000" stroke-width="2.05"/>
<line x1="1503.8" y1="639.45" x2="1508.8" y2="639.45" stroke="#000" stroke-width="2.05"/>
<line x1="1503.8" y1="632.55" x2="1508.8" y2="632.55" stroke="#000" stroke-width="2.05"/>
<line x1="1503.8" y1="626.58" x2="1508.8" y2="626.58" stroke="#000" stroke-width="2.05"/>
<line x1="1503.8" y1="621.31" x2="1508.8" y2="621.31" stroke="#000" stroke-width="2.05"/>
<line x1="1500.2" y1="616.6" x2="1508.8" y2="616.6" stroke="#000" stroke-width="2.05"/>
<line x1="1500.2" y1="925.6" x2="1905.2" y2="925.6" stroke="#000" stroke-width="2.05"/>
<line x1="1508.8" y1="925.6" x2="1508.8" y2="934.2" stroke="#000" stroke-width="2.05"/>
<line x1="1548.48" y1="925.6" x2="1548.48" y2="930.6" stroke="#000" stroke-width="2.05"/>
<line x1="1571.68" y1="925.6" x2="1571.68" y2="930.6" stroke="#000" stroke-width="2.05"/>
<line x1="1588.15" y1="925.6" x2="1588.15" y2="930.6" stroke="#000" stroke-width="2.05"/>
<line x1="1600.92" y1="925.6" x2="1600.92" y2="930.6" stroke="#000" stroke-width="2.05"/>
<line x1="1611.36" y1="925.6" x2="1611.36" y2="930.6" stroke="#000" stroke-width="2.05"/>
<line x1="1620.18" y1="925.6" x2="1620.18" y2="930.6" stroke="#000" stroke-width="2.05"/>
<line x1="1627.83" y1="925.6" x2="1627.83" y2="930.6" stroke="#000" stroke-width="2.05"/>
<line x1="1634.57" y1="925.6" x2="1634.57" y2="930.6" stroke="#000" stroke-width="2.05"/>
<text transform="translate(1509.2 969.8) scale(0.975 1)" font-size="27.9" text-anchor="middle"><tspan>10</tspan><tspan dy="-13.2" font-size="18.8">0</tspan></text>
<line x1="1640.6" y1="925.6" x2="1640.6" y2="934.2" stroke="#000" stroke-width="2.05"/>
<line x1="1680.28" y1="925.6" x2="1680.28" y2="930.6" stroke="#000" stroke-width="2.05"/>
<line x1="1703.48" y1="925.6" x2="1703.48" y2="930.6" stroke="#000" stroke-width="2.05"/>
<line x1="1719.95" y1="925.6" x2="1719.95" y2="930.6" stroke="#000" stroke-width="2.05"/>
<line x1="1732.72" y1="925.6" x2="1732.72" y2="930.6" stroke="#000" stroke-width="2.05"/>
<line x1="1743.16" y1="925.6" x2="1743.16" y2="930.6" stroke="#000" stroke-width="2.05"/>
<line x1="1751.98" y1="925.6" x2="1751.98" y2="930.6" stroke="#000" stroke-width="2.05"/>
<line x1="1759.63" y1="925.6" x2="1759.63" y2="930.6" stroke="#000" stroke-width="2.05"/>
<line x1="1766.37" y1="925.6" x2="1766.37" y2="930.6" stroke="#000" stroke-width="2.05"/>
<text transform="translate(1641 969.8) scale(0.975 1)" font-size="27.9" text-anchor="middle"><tspan>10</tspan><tspan dy="-13.2" font-size="18.8">1</tspan></text>
<line x1="1772.4" y1="925.6" x2="1772.4" y2="934.2" stroke="#000" stroke-width="2.05"/>
<line x1="1812.08" y1="925.6" x2="1812.08" y2="930.6" stroke="#000" stroke-width="2.05"/>
<line x1="1835.28" y1="925.6" x2="1835.28" y2="930.6" stroke="#000" stroke-width="2.05"/>
<line x1="1851.75" y1="925.6" x2="1851.75" y2="930.6" stroke="#000" stroke-width="2.05"/>
<line x1="1864.52" y1="925.6" x2="1864.52" y2="930.6" stroke="#000" stroke-width="2.05"/>
<line x1="1874.96" y1="925.6" x2="1874.96" y2="930.6" stroke="#000" stroke-width="2.05"/>
<line x1="1883.78" y1="925.6" x2="1883.78" y2="930.6" stroke="#000" stroke-width="2.05"/>
<line x1="1891.43" y1="925.6" x2="1891.43" y2="930.6" stroke="#000" stroke-width="2.05"/>
<line x1="1898.17" y1="925.6" x2="1898.17" y2="930.6" stroke="#000" stroke-width="2.05"/>
<text transform="translate(1772.8 969.8) scale(0.975 1)" font-size="27.9" text-anchor="middle"><tspan>10</tspan><tspan dy="-13.2" font-size="18.8">2</tspan></text>
<line x1="1904.2" y1="925.6" x2="1904.2" y2="934.2" stroke="#000" stroke-width="2.05"/>
<text transform="translate(1904.6 969.8) scale(0.975 1)" font-size="27.9" text-anchor="middle"><tspan>10</tspan><tspan dy="-13.2" font-size="18.8">3</tspan></text>
<text transform="translate(1450.3 933.6) scale(0.975 1)" font-size="27.9" text-anchor="start"><tspan>10</tspan><tspan dy="-13.2" font-size="18.8">1</tspan></text>
<text transform="translate(1450.3 830.6) scale(0.975 1)" font-size="27.9" text-anchor="start"><tspan>10</tspan><tspan dy="-13.2" font-size="18.8">2</tspan></text>
<text transform="translate(1450.3 727.6) scale(0.975 1)" font-size="27.9" text-anchor="start"><tspan>10</tspan><tspan dy="-13.2" font-size="18.8">3</tspan></text>
<text transform="translate(1450.3 624.6) scale(0.975 1)" font-size="27.9" text-anchor="start"><tspan>10</tspan><tspan dy="-13.2" font-size="18.8">4</tspan></text>
<text transform="translate(1707 587.7) scale(0.975 1)" font-size="27.9" text-anchor="middle"><tspan>V</tspan><tspan dy="8" font-size="18.8">N</tspan><tspan dy="-8" font-size="27.9">HR</tspan></text>
<text transform="translate(1425.7 769.2) rotate(-90) scale(0.975 1)" font-size="27.9" text-anchor="middle"><tspan>RBD IgG (ETs)</tspan></text>
<text transform="translate(1707 1007.8) scale(0.975 1)" font-size="27.9" text-anchor="middle" textLength="287.69" lengthAdjust="spacingAndGlyphs"><tspan>PSV-neutralizing assay</tspan></text>
<text transform="translate(1707 1039.6) scale(0.975 1)" font-size="27.9" text-anchor="middle"><tspan>(ND</tspan><tspan dy="8" font-size="18.8">50</tspan><tspan dy="-8" font-size="27.9">)</tspan></text>
<rect x="928.55" y="873.05" width="12.7" height="12.7" fill="#ff9e9e" stroke="#000" stroke-width="1.0"/>
<rect x="928.55" y="861.35" width="12.7" height="12.7" fill="#ff9e9e" stroke="#000" stroke-width="1.0"/>
<rect x="928.55" y="845.05" width="12.7" height="12.7" fill="#ff9e9e" stroke="#000" stroke-width="1.0"/>
<rect x="928.55" y="834.55" width="12.7" height="12.7" fill="#ff9e9e" stroke="#000" stroke-width="1.0"/>
<rect x="928.55" y="817.95" width="12.7" height="12.7" fill="#ff9e9e" stroke="#000" stroke-width="1.0"/>
<rect x="928.55" y="805.05" width="12.7" height="12.7" fill="#ff9e9e" stroke="#000" stroke-width="1.0"/>
<rect x="928.55" y="793.65" width="12.7" height="12.7" fill="#ff9e9e" stroke="#000" stroke-width="1.0"/>
<rect x="928.55" y="782.25" width="12.7" height="12.7" fill="#ff9e9e" stroke="#000" stroke-width="1.0"/>
<path d="M934.9 804.5L941.55 817.3L928.25 817.3Z" fill="#ff9e9e" stroke="#000" stroke-width="1.0" stroke-linejoin="miter"/>
<circle cx="934.9" cy="799.1" r="6.5" fill="#ff9e9e" stroke="#000" stroke-width="1.0"/>
<path d="M934.9 756.5L941.55 769.3L928.25 769.3Z" fill="#ff9e9e" stroke="#000" stroke-width="1.0" stroke-linejoin="miter"/>
<path d="M934.9 661.6L941.55 674.4L928.25 674.4Z" fill="#ff9e9e" stroke="#000" stroke-width="1.0" stroke-linejoin="miter"/>
<path d="M934.9 673.6L941.55 686.4L928.25 686.4Z" fill="#ff9e9e" stroke="#000" stroke-width="1.0" stroke-linejoin="miter"/>
<path d="M934.9 686.5L941.55 699.3L928.25 699.3Z" fill="#ff9e9e" stroke="#000" stroke-width="1.0" stroke-linejoin="miter"/>
<path d="M934.9 690.6L941.55 703.4L928.25 703.4Z" fill="#ff9e9e" stroke="#000" stroke-width="1.0" stroke-linejoin="miter"/>
<circle cx="934.9" cy="757.7" r="6.5" fill="#ff9e9e" stroke="#000" stroke-width="1.0"/>
<circle cx="934.9" cy="750" r="6.5" fill="#ff9e9e" stroke="#000" stroke-width="1.0"/>
<circle cx="934.9" cy="745.7" r="6.5" fill="#ff9e9e" stroke="#000" stroke-width="1.0"/>
<circle cx="934.9" cy="732.3" r="6.5" fill="#ff9e9e" stroke="#000" stroke-width="1.0"/>
<circle cx="934.9" cy="715.7" r="6.5" fill="#ff9e9e" stroke="#000" stroke-width="1.0"/>
<circle cx="934.9" cy="710" r="6.5" fill="#ff9e9e" stroke="#000" stroke-width="1.0"/>
<circle cx="934.9" cy="702.3" r="6.5" fill="#ff9e9e" stroke="#000" stroke-width="1.0"/>
<path d="M1097.3 684.8L1103.95 697.6L1090.65 697.6Z" fill="#ff9e9e" stroke="#000" stroke-width="1.0" stroke-linejoin="miter"/>
<path d="M1110.7 690.5L1117.35 703.3L1104.05 703.3Z" fill="#ff9e9e" stroke="#000" stroke-width="1.0" stroke-linejoin="miter"/>
<circle cx="1203.5" cy="620.1" r="6.5" fill="#ff9e9e" stroke="#000" stroke-width="1.0"/>
<circle cx="1116.7" cy="683.6" r="6.5" fill="#ff9e9e" stroke="#000" stroke-width="1.0"/>
<circle cx="1139.9" cy="683.6" r="6.5" fill="#ff9e9e" stroke="#000" stroke-width="1.0"/>
<circle cx="1133.4" cy="684.7" r="6.5" fill="#ff9e9e" stroke="#000" stroke-width="1.0"/>
<circle cx="1190.6" cy="696.1" r="6.5" fill="#ff9e9e" stroke="#000" stroke-width="1.0"/>
<circle cx="1168.7" cy="700.9" r="6.5" fill="#ff9e9e" stroke="#000" stroke-width="1.0"/>
<circle cx="1114.5" cy="702.9" r="6.5" fill="#ff9e9e" stroke="#000" stroke-width="1.0"/>
<circle cx="1120.8" cy="702.2" r="6.5" fill="#ff9e9e" stroke="#000" stroke-width="1.0"/>
<circle cx="1132.6" cy="711" r="6.5" fill="#ff9e9e" stroke="#000" stroke-width="1.0"/>
<circle cx="1107.8" cy="732.2" r="6.5" fill="#ff9e9e" stroke="#000" stroke-width="1.0"/>
<circle cx="1106.4" cy="722.8" r="6.5" fill="#ff9e9e" stroke="#000" stroke-width="1.0"/>
<circle cx="1079.6" cy="734.9" r="6.5" fill="#ff9e9e" stroke="#000" stroke-width="1.0"/>
<circle cx="1136.6" cy="736.1" r="6.5" fill="#ff9e9e" stroke="#000" stroke-width="1.0"/>
<path d="M1546.9 635.7L1553.55 648.5L1540.25 648.5Z" fill="#ff9e9e" stroke="#000" stroke-width="1.0" stroke-linejoin="miter"/>
<path d="M1546.9 653.1L1553.55 665.9L1540.25 665.9Z" fill="#ff9e9e" stroke="#000" stroke-width="1.0" stroke-linejoin="miter"/>
<path d="M1546.9 670.5L1553.55 683.3L1540.25 683.3Z" fill="#ff9e9e" stroke="#000" stroke-width="1.0" stroke-linejoin="miter"/>
<rect x="1540.55" y="784.55" width="12.7" height="12.7" fill="#ff9e9e" stroke="#000" stroke-width="1.0"/>
<rect x="1540.55" y="780.25" width="12.7" height="12.7" fill="#ff9e9e" stroke="#000" stroke-width="1.0"/>
<rect x="1540.55" y="768.75" width="12.7" height="12.7" fill="#ff9e9e" stroke="#000" stroke-width="1.0"/>
<rect x="1540.55" y="749.15" width="12.7" height="12.7" fill="#ff9e9e" stroke="#000" stroke-width="1.0"/>
<rect x="1540.55" y="727.05" width="12.7" height="12.7" fill="#ff9e9e" stroke="#000" stroke-width="1.0"/>
<rect x="1699.95" y="746.95" width="12.7" height="12.7" fill="#ff9e9e" stroke="#000" stroke-width="1.0"/>
<rect x="1710.45" y="746.95" width="12.7" height="12.7" fill="#ff9e9e" stroke="#000" stroke-width="1.0"/>
<rect x="1742.15" y="741.75" width="12.7" height="12.7" fill="#ff9e9e" stroke="#000" stroke-width="1.0"/>
<rect x="1737.75" y="746.95" width="12.7" height="12.7" fill="#ff9e9e" stroke="#000" stroke-width="1.0"/>
<rect x="1733.85" y="736.35" width="12.7" height="12.7" fill="#ff9e9e" stroke="#000" stroke-width="1.0"/>
<rect x="1789.65" y="743.75" width="12.7" height="12.7" fill="#ff9e9e" stroke="#000" stroke-width="1.0"/>
<rect x="1740.35" y="773.25" width="12.7" height="12.7" fill="#ff9e9e" stroke="#000" stroke-width="1.0"/>
<path d="M1870.5 614.7L1877.15 627.5L1863.85 627.5Z" fill="#ff9e9e" stroke="#000" stroke-width="1.0" stroke-linejoin="miter"/>
<path d="M1802.5 624.9L1809.15 637.7L1795.85 637.7Z" fill="#ff9e9e" stroke="#000" stroke-width="1.0" stroke-linejoin="miter"/>
<path d="M1768.9 627L1775.55 639.8L1762.25 639.8Z" fill="#ff9e9e" stroke="#000" stroke-width="1.0" stroke-linejoin="miter"/>
<path d="M1756.3 632.5L1762.95 645.3L1749.65 645.3Z" fill="#ff9e9e" stroke="#000" stroke-width="1.0" stroke-linejoin="miter"/>
<path d="M1793.2 632.9L1799.85 645.7L1786.55 645.7Z" fill="#ff9e9e" stroke="#000" stroke-width="1.0" stroke-linejoin="miter"/>
<path d="M1731.5 639.6L1738.15 652.4L1724.85 652.4Z" fill="#ff9e9e" stroke="#000" stroke-width="1.0" stroke-linejoin="miter"/>
<path d="M1760.2 646.2L1766.85 659L1753.55 659Z" fill="#ff9e9e" stroke="#000" stroke-width="1.0" stroke-linejoin="miter"/>
<path d="M1772.6 644.4L1779.25 657.2L1765.95 657.2Z" fill="#ff9e9e" stroke="#000" stroke-width="1.0" stroke-linejoin="miter"/>
<path d="M1764.1 646.2L1770.75 659L1757.45 659Z" fill="#ff9e9e" stroke="#000" stroke-width="1.0" stroke-linejoin="miter"/>
<path d="M1779.7 653.5L1786.35 666.3L1773.05 666.3Z" fill="#ff9e9e" stroke="#000" stroke-width="1.0" stroke-linejoin="miter"/>
<path d="M1706.3 664L1712.95 676.8L1699.65 676.8Z" fill="#ff9e9e" stroke="#000" stroke-width="1.0" stroke-linejoin="miter"/>
<path d="M1720.2 665.1L1726.85 677.9L1713.55 677.9Z" fill="#ff9e9e" stroke="#000" stroke-width="1.0" stroke-linejoin="miter"/>
<path d="M1750.9 664.4L1757.55 677.2L1744.25 677.2Z" fill="#ff9e9e" stroke="#000" stroke-width="1.0" stroke-linejoin="miter"/>
<circle cx="1780.2" cy="619.8" r="6.5" fill="#ff9e9e" stroke="#000" stroke-width="1.0"/>
<circle cx="1748.5" cy="636.3" r="6.5" fill="#ff9e9e" stroke="#000" stroke-width="1.0"/>
<circle cx="1801" cy="652.6" r="6.5" fill="#ff9e9e" stroke="#000" stroke-width="1.0"/>
<circle cx="1841" cy="651.3" r="6.5" fill="#ff9e9e" stroke="#000" stroke-width="1.0"/>
<circle cx="1811.9" cy="659.9" r="6.5" fill="#ff9e9e" stroke="#000" stroke-width="1.0"/>
<circle cx="1816.2" cy="662.8" r="6.5" fill="#ff9e9e" stroke="#000" stroke-width="1.0"/>
<circle cx="1854.9" cy="659.9" r="6.5" fill="#ff9e9e" stroke="#000" stroke-width="1.0"/>
<circle cx="1859" cy="662.1" r="6.5" fill="#ff9e9e" stroke="#000" stroke-width="1.0"/>
<circle cx="1877.9" cy="660.6" r="6.5" fill="#ff9e9e" stroke="#000" stroke-width="1.0"/>
<circle cx="1885.1" cy="654.1" r="6.5" fill="#ff9e9e" stroke="#000" stroke-width="1.0"/>
<circle cx="1798.4" cy="665.6" r="6.5" fill="#ff9e9e" stroke="#000" stroke-width="1.0"/>
<circle cx="1874.4" cy="666.5" r="6.5" fill="#ff9e9e" stroke="#000" stroke-width="1.0"/>
<circle cx="1774.3" cy="673.6" r="6.5" fill="#ff9e9e" stroke="#000" stroke-width="1.0"/>
<circle cx="1783" cy="669.3" r="6.5" fill="#ff9e9e" stroke="#000" stroke-width="1.0"/>
<circle cx="1808" cy="669.7" r="6.5" fill="#ff9e9e" stroke="#000" stroke-width="1.0"/>
<circle cx="1898.3" cy="668.8" r="6.5" fill="#ff9e9e" stroke="#000" stroke-width="1.0"/>
<circle cx="1861" cy="671.9" r="6.5" fill="#ff9e9e" stroke="#000" stroke-width="1.0"/>
<circle cx="1894.2" cy="673.6" r="6.5" fill="#ff9e9e" stroke="#000" stroke-width="1.0"/>
<circle cx="1996.7" cy="607.7" r="6.5" fill="#ff9e9e" stroke="#000" stroke-width="1.0"/>
<path d="M1996.8 636.55L2003.45 649.85L1990.15 649.85Z" fill="#ff9e9e" stroke="#000" stroke-width="1.0" stroke-linejoin="miter"/>
<rect x="1991.55" y="672.15" width="12.9" height="12.9" fill="#ff9e9e" stroke="#000" stroke-width="1.0"/>
<text transform="translate(2013.2 619.6) scale(0.975 1)" font-size="27.9" text-anchor="start"><tspan>RBD</tspan><tspan dy="-13.2" font-size="18.8">WT</tspan></text>
<text transform="translate(2013.2 652.9) scale(0.975 1)" font-size="27.9" text-anchor="start"><tspan>RBD</tspan><tspan dy="-13.2" font-size="18.8">D</tspan></text>
<text transform="translate(2013.2 686) scale(0.975 1)" font-size="27.9" text-anchor="start"><tspan>RBD</tspan><tspan dy="-13.2" font-size="18.8">O</tspan></text>
</svg></body></html>
